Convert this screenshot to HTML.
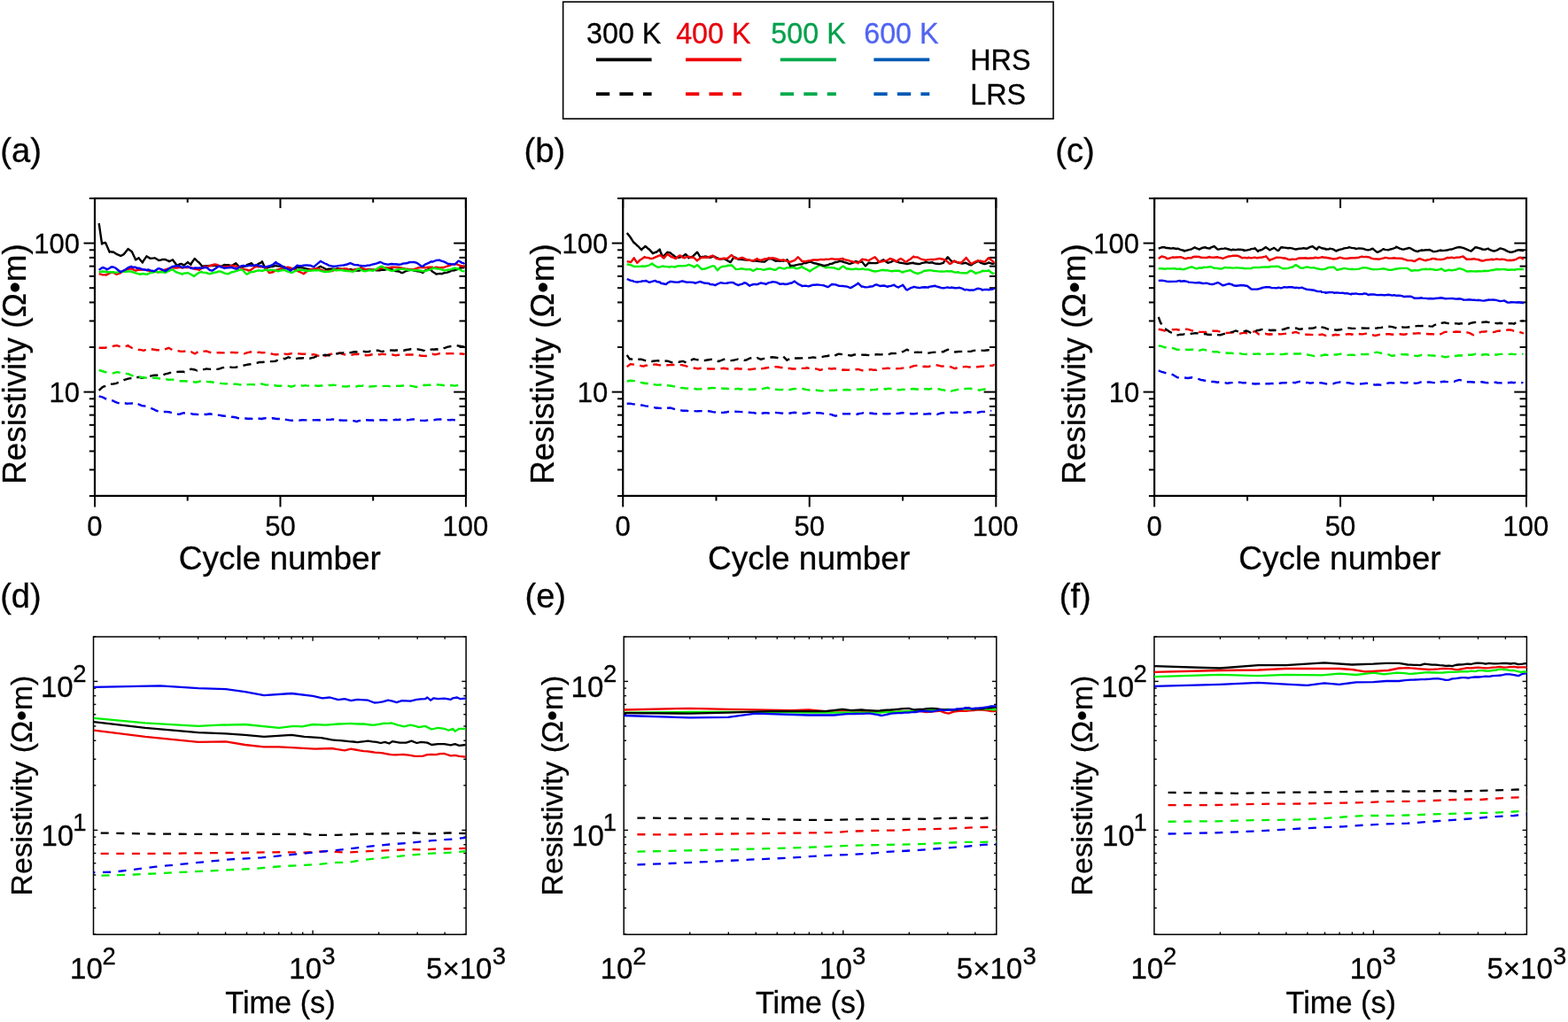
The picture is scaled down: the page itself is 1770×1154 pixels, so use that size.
<!DOCTYPE html>
<html><head><meta charset="utf-8"><title>Resistivity figure</title>
<style>html,body{margin:0;padding:0;background:#fff;}svg{display:block;}</style></head>
<body>
<svg width="1770" height="1154" viewBox="0 0 1770 1154" font-family="Liberation Sans, Arial, sans-serif">
<rect width="1770" height="1154" fill="#fff"/>
<clipPath id="clipf"><rect x="1302.9" y="719.0" width="420.5" height="336.20000000000005"/></clipPath>
<clipPath id="clipe"><rect x="704.2" y="719.0" width="420.5999999999999" height="336.20000000000005"/></clipPath>
<clipPath id="clipd"><rect x="105.5" y="719.0" width="420.6" height="336.20000000000005"/></clipPath>
<clipPath id="clipc"><rect x="1303.1" y="224.0" width="419.9000000000001" height="335.9"/></clipPath>
<clipPath id="clipb"><rect x="703.2" y="224.0" width="421.0999999999999" height="335.9"/></clipPath>
<clipPath id="clipa"><rect x="107.0" y="224.0" width="418.9" height="335.9"/></clipPath>
<rect x="635.6" y="2.1" width="553.4" height="132" fill="none" stroke="#000" stroke-width="1.6"/>
<text x="661.99" y="48.90" font-size="32.30" fill="#000" stroke="#000" stroke-width="0.3">300 K</text>
<line x1="672.90" y1="67.45" x2="735.60" y2="67.45" stroke="#000" stroke-width="3.7" />
<line x1="672.90" y1="106.20" x2="735.60" y2="106.20" stroke="#000" stroke-width="3.7" stroke-dasharray="15.3 11.2"/>
<text x="763.17" y="48.90" font-size="32.30" fill="#e6000c" stroke="#e6000c" stroke-width="0.3">400 K</text>
<line x1="774.00" y1="67.45" x2="837.00" y2="67.45" stroke="#ee0000" stroke-width="3.7" />
<line x1="774.00" y1="106.20" x2="837.00" y2="106.20" stroke="#ee0000" stroke-width="3.7" stroke-dasharray="15.3 11.2"/>
<text x="870.31" y="48.90" font-size="32.30" fill="#00a04c" stroke="#00a04c" stroke-width="0.3">500 K</text>
<line x1="880.80" y1="67.45" x2="943.90" y2="67.45" stroke="#00aa4c" stroke-width="3.7" />
<line x1="880.80" y1="106.20" x2="943.90" y2="106.20" stroke="#00aa4c" stroke-width="3.7" stroke-dasharray="15.3 11.2"/>
<text x="975.18" y="48.90" font-size="32.30" fill="#5064f2" stroke="#5064f2" stroke-width="0.3">600 K</text>
<line x1="986.40" y1="67.45" x2="1049.30" y2="67.45" stroke="#005ab4" stroke-width="3.7" />
<line x1="986.40" y1="106.20" x2="1049.30" y2="106.20" stroke="#005ab4" stroke-width="3.7" stroke-dasharray="15.3 11.2"/>
<text x="1095.24" y="79.30" font-size="32.30" fill="#000" stroke="#000" stroke-width="0.3">HRS</text>
<text x="1095.24" y="118.20" font-size="32.30" fill="#000" stroke="#000" stroke-width="0.3">LRS</text>
<line x1="100.80" y1="560.03" x2="107.00" y2="560.03" stroke="#000" stroke-width="2.0" />
<line x1="518.50" y1="560.03" x2="525.90" y2="560.03" stroke="#000" stroke-width="2.0" />
<line x1="100.80" y1="530.44" x2="107.00" y2="530.44" stroke="#000" stroke-width="2.0" />
<line x1="518.50" y1="530.44" x2="525.90" y2="530.44" stroke="#000" stroke-width="2.0" />
<line x1="100.80" y1="509.45" x2="107.00" y2="509.45" stroke="#000" stroke-width="2.0" />
<line x1="518.50" y1="509.45" x2="525.90" y2="509.45" stroke="#000" stroke-width="2.0" />
<line x1="100.80" y1="493.17" x2="107.00" y2="493.17" stroke="#000" stroke-width="2.0" />
<line x1="518.50" y1="493.17" x2="525.90" y2="493.17" stroke="#000" stroke-width="2.0" />
<line x1="100.80" y1="479.87" x2="107.00" y2="479.87" stroke="#000" stroke-width="2.0" />
<line x1="518.50" y1="479.87" x2="525.90" y2="479.87" stroke="#000" stroke-width="2.0" />
<line x1="100.80" y1="468.62" x2="107.00" y2="468.62" stroke="#000" stroke-width="2.0" />
<line x1="518.50" y1="468.62" x2="525.90" y2="468.62" stroke="#000" stroke-width="2.0" />
<line x1="100.80" y1="458.88" x2="107.00" y2="458.88" stroke="#000" stroke-width="2.0" />
<line x1="518.50" y1="458.88" x2="525.90" y2="458.88" stroke="#000" stroke-width="2.0" />
<line x1="100.80" y1="450.29" x2="107.00" y2="450.29" stroke="#000" stroke-width="2.0" />
<line x1="518.50" y1="450.29" x2="525.90" y2="450.29" stroke="#000" stroke-width="2.0" />
<line x1="100.80" y1="392.03" x2="107.00" y2="392.03" stroke="#000" stroke-width="2.0" />
<line x1="518.50" y1="392.03" x2="525.90" y2="392.03" stroke="#000" stroke-width="2.0" />
<line x1="100.80" y1="362.44" x2="107.00" y2="362.44" stroke="#000" stroke-width="2.0" />
<line x1="518.50" y1="362.44" x2="525.90" y2="362.44" stroke="#000" stroke-width="2.0" />
<line x1="100.80" y1="341.45" x2="107.00" y2="341.45" stroke="#000" stroke-width="2.0" />
<line x1="518.50" y1="341.45" x2="525.90" y2="341.45" stroke="#000" stroke-width="2.0" />
<line x1="100.80" y1="325.17" x2="107.00" y2="325.17" stroke="#000" stroke-width="2.0" />
<line x1="518.50" y1="325.17" x2="525.90" y2="325.17" stroke="#000" stroke-width="2.0" />
<line x1="100.80" y1="311.87" x2="107.00" y2="311.87" stroke="#000" stroke-width="2.0" />
<line x1="518.50" y1="311.87" x2="525.90" y2="311.87" stroke="#000" stroke-width="2.0" />
<line x1="100.80" y1="300.62" x2="107.00" y2="300.62" stroke="#000" stroke-width="2.0" />
<line x1="518.50" y1="300.62" x2="525.90" y2="300.62" stroke="#000" stroke-width="2.0" />
<line x1="100.80" y1="290.88" x2="107.00" y2="290.88" stroke="#000" stroke-width="2.0" />
<line x1="518.50" y1="290.88" x2="525.90" y2="290.88" stroke="#000" stroke-width="2.0" />
<line x1="100.80" y1="282.29" x2="107.00" y2="282.29" stroke="#000" stroke-width="2.0" />
<line x1="518.50" y1="282.29" x2="525.90" y2="282.29" stroke="#000" stroke-width="2.0" />
<line x1="100.80" y1="224.03" x2="107.00" y2="224.03" stroke="#000" stroke-width="2.0" />
<line x1="518.50" y1="224.03" x2="525.90" y2="224.03" stroke="#000" stroke-width="2.0" />
<line x1="94.50" y1="442.60" x2="107.00" y2="442.60" stroke="#000" stroke-width="2.0" />
<line x1="512.20" y1="442.60" x2="525.90" y2="442.60" stroke="#000" stroke-width="2.0" />
<line x1="94.50" y1="274.60" x2="107.00" y2="274.60" stroke="#000" stroke-width="2.0" />
<line x1="512.20" y1="274.60" x2="525.90" y2="274.60" stroke="#000" stroke-width="2.0" />
<line x1="107.00" y1="559.90" x2="107.00" y2="572.40" stroke="#000" stroke-width="2.0" />
<line x1="107.00" y1="224.00" x2="107.00" y2="235.00" stroke="#000" stroke-width="2.0" />
<line x1="211.72" y1="559.90" x2="211.72" y2="565.50" stroke="#000" stroke-width="2.0" />
<line x1="211.72" y1="224.00" x2="211.72" y2="228.70" stroke="#000" stroke-width="2.0" />
<line x1="316.45" y1="559.90" x2="316.45" y2="572.40" stroke="#000" stroke-width="2.0" />
<line x1="316.45" y1="224.00" x2="316.45" y2="235.00" stroke="#000" stroke-width="2.0" />
<line x1="421.18" y1="559.90" x2="421.18" y2="565.50" stroke="#000" stroke-width="2.0" />
<line x1="421.18" y1="224.00" x2="421.18" y2="228.70" stroke="#000" stroke-width="2.0" />
<line x1="525.90" y1="559.90" x2="525.90" y2="572.40" stroke="#000" stroke-width="2.0" />
<line x1="525.90" y1="224.00" x2="525.90" y2="235.00" stroke="#000" stroke-width="2.0" />
<rect x="107.0" y="224.0" width="418.90" height="335.90" fill="none" stroke="#000" stroke-width="2.2"/>
<text x="38.27" y="285.80" font-size="31.00" fill="#000" stroke="#000" stroke-width="0.3">100</text>
<text x="55.55" y="453.80" font-size="31.00" fill="#000" stroke="#000" stroke-width="0.3">10</text>
<text x="98.36" y="604.60" font-size="31.00" fill="#000" stroke="#000" stroke-width="0.3">0</text>
<text x="299.21" y="604.60" font-size="31.00" fill="#000" stroke="#000" stroke-width="0.3">50</text>
<text x="499.47" y="604.60" font-size="31.00" fill="#000" stroke="#000" stroke-width="0.3">100</text>
<text x="201.70" y="642.60" font-size="37.00" fill="#000" stroke="#000" stroke-width="0.3">Cycle number</text>
<text transform="translate(29.00,546.84) rotate(-90)" x="0" y="0" font-size="36.85" fill="#000" stroke="#000" stroke-width="0.3">Resistivity (Ω•m)</text>
<text x="0.21" y="182.80" font-size="38.20" fill="#000" stroke="#000" stroke-width="0.3">(a)</text>
<line x1="697.00" y1="560.03" x2="703.20" y2="560.03" stroke="#000" stroke-width="2.0" />
<line x1="1116.90" y1="560.03" x2="1124.30" y2="560.03" stroke="#000" stroke-width="2.0" />
<line x1="697.00" y1="530.44" x2="703.20" y2="530.44" stroke="#000" stroke-width="2.0" />
<line x1="1116.90" y1="530.44" x2="1124.30" y2="530.44" stroke="#000" stroke-width="2.0" />
<line x1="697.00" y1="509.45" x2="703.20" y2="509.45" stroke="#000" stroke-width="2.0" />
<line x1="1116.90" y1="509.45" x2="1124.30" y2="509.45" stroke="#000" stroke-width="2.0" />
<line x1="697.00" y1="493.17" x2="703.20" y2="493.17" stroke="#000" stroke-width="2.0" />
<line x1="1116.90" y1="493.17" x2="1124.30" y2="493.17" stroke="#000" stroke-width="2.0" />
<line x1="697.00" y1="479.87" x2="703.20" y2="479.87" stroke="#000" stroke-width="2.0" />
<line x1="1116.90" y1="479.87" x2="1124.30" y2="479.87" stroke="#000" stroke-width="2.0" />
<line x1="697.00" y1="468.62" x2="703.20" y2="468.62" stroke="#000" stroke-width="2.0" />
<line x1="1116.90" y1="468.62" x2="1124.30" y2="468.62" stroke="#000" stroke-width="2.0" />
<line x1="697.00" y1="458.88" x2="703.20" y2="458.88" stroke="#000" stroke-width="2.0" />
<line x1="1116.90" y1="458.88" x2="1124.30" y2="458.88" stroke="#000" stroke-width="2.0" />
<line x1="697.00" y1="450.29" x2="703.20" y2="450.29" stroke="#000" stroke-width="2.0" />
<line x1="1116.90" y1="450.29" x2="1124.30" y2="450.29" stroke="#000" stroke-width="2.0" />
<line x1="697.00" y1="392.03" x2="703.20" y2="392.03" stroke="#000" stroke-width="2.0" />
<line x1="1116.90" y1="392.03" x2="1124.30" y2="392.03" stroke="#000" stroke-width="2.0" />
<line x1="697.00" y1="362.44" x2="703.20" y2="362.44" stroke="#000" stroke-width="2.0" />
<line x1="1116.90" y1="362.44" x2="1124.30" y2="362.44" stroke="#000" stroke-width="2.0" />
<line x1="697.00" y1="341.45" x2="703.20" y2="341.45" stroke="#000" stroke-width="2.0" />
<line x1="1116.90" y1="341.45" x2="1124.30" y2="341.45" stroke="#000" stroke-width="2.0" />
<line x1="697.00" y1="325.17" x2="703.20" y2="325.17" stroke="#000" stroke-width="2.0" />
<line x1="1116.90" y1="325.17" x2="1124.30" y2="325.17" stroke="#000" stroke-width="2.0" />
<line x1="697.00" y1="311.87" x2="703.20" y2="311.87" stroke="#000" stroke-width="2.0" />
<line x1="1116.90" y1="311.87" x2="1124.30" y2="311.87" stroke="#000" stroke-width="2.0" />
<line x1="697.00" y1="300.62" x2="703.20" y2="300.62" stroke="#000" stroke-width="2.0" />
<line x1="1116.90" y1="300.62" x2="1124.30" y2="300.62" stroke="#000" stroke-width="2.0" />
<line x1="697.00" y1="290.88" x2="703.20" y2="290.88" stroke="#000" stroke-width="2.0" />
<line x1="1116.90" y1="290.88" x2="1124.30" y2="290.88" stroke="#000" stroke-width="2.0" />
<line x1="697.00" y1="282.29" x2="703.20" y2="282.29" stroke="#000" stroke-width="2.0" />
<line x1="1116.90" y1="282.29" x2="1124.30" y2="282.29" stroke="#000" stroke-width="2.0" />
<line x1="697.00" y1="224.03" x2="703.20" y2="224.03" stroke="#000" stroke-width="2.0" />
<line x1="1116.90" y1="224.03" x2="1124.30" y2="224.03" stroke="#000" stroke-width="2.0" />
<line x1="690.70" y1="442.60" x2="703.20" y2="442.60" stroke="#000" stroke-width="2.0" />
<line x1="1110.60" y1="442.60" x2="1124.30" y2="442.60" stroke="#000" stroke-width="2.0" />
<line x1="690.70" y1="274.60" x2="703.20" y2="274.60" stroke="#000" stroke-width="2.0" />
<line x1="1110.60" y1="274.60" x2="1124.30" y2="274.60" stroke="#000" stroke-width="2.0" />
<line x1="703.20" y1="559.90" x2="703.20" y2="572.40" stroke="#000" stroke-width="2.0" />
<line x1="703.20" y1="224.00" x2="703.20" y2="235.00" stroke="#000" stroke-width="2.0" />
<line x1="808.48" y1="559.90" x2="808.48" y2="565.50" stroke="#000" stroke-width="2.0" />
<line x1="808.48" y1="224.00" x2="808.48" y2="228.70" stroke="#000" stroke-width="2.0" />
<line x1="913.75" y1="559.90" x2="913.75" y2="572.40" stroke="#000" stroke-width="2.0" />
<line x1="913.75" y1="224.00" x2="913.75" y2="235.00" stroke="#000" stroke-width="2.0" />
<line x1="1019.02" y1="559.90" x2="1019.02" y2="565.50" stroke="#000" stroke-width="2.0" />
<line x1="1019.02" y1="224.00" x2="1019.02" y2="228.70" stroke="#000" stroke-width="2.0" />
<line x1="1124.30" y1="559.90" x2="1124.30" y2="572.40" stroke="#000" stroke-width="2.0" />
<line x1="1124.30" y1="224.00" x2="1124.30" y2="235.00" stroke="#000" stroke-width="2.0" />
<rect x="703.2" y="224.0" width="421.10" height="335.90" fill="none" stroke="#000" stroke-width="2.2"/>
<text x="634.47" y="285.80" font-size="31.00" fill="#000" stroke="#000" stroke-width="0.3">100</text>
<text x="651.75" y="453.80" font-size="31.00" fill="#000" stroke="#000" stroke-width="0.3">10</text>
<text x="694.56" y="604.60" font-size="31.00" fill="#000" stroke="#000" stroke-width="0.3">0</text>
<text x="896.51" y="604.60" font-size="31.00" fill="#000" stroke="#000" stroke-width="0.3">50</text>
<text x="1097.87" y="604.60" font-size="31.00" fill="#000" stroke="#000" stroke-width="0.3">100</text>
<text x="799.00" y="642.60" font-size="37.00" fill="#000" stroke="#000" stroke-width="0.3">Cycle number</text>
<text transform="translate(625.20,546.84) rotate(-90)" x="0" y="0" font-size="36.85" fill="#000" stroke="#000" stroke-width="0.3">Resistivity (Ω•m)</text>
<text x="591.61" y="182.80" font-size="38.20" fill="#000" stroke="#000" stroke-width="0.3">(b)</text>
<line x1="1296.90" y1="560.03" x2="1303.10" y2="560.03" stroke="#000" stroke-width="2.0" />
<line x1="1715.60" y1="560.03" x2="1723.00" y2="560.03" stroke="#000" stroke-width="2.0" />
<line x1="1296.90" y1="530.44" x2="1303.10" y2="530.44" stroke="#000" stroke-width="2.0" />
<line x1="1715.60" y1="530.44" x2="1723.00" y2="530.44" stroke="#000" stroke-width="2.0" />
<line x1="1296.90" y1="509.45" x2="1303.10" y2="509.45" stroke="#000" stroke-width="2.0" />
<line x1="1715.60" y1="509.45" x2="1723.00" y2="509.45" stroke="#000" stroke-width="2.0" />
<line x1="1296.90" y1="493.17" x2="1303.10" y2="493.17" stroke="#000" stroke-width="2.0" />
<line x1="1715.60" y1="493.17" x2="1723.00" y2="493.17" stroke="#000" stroke-width="2.0" />
<line x1="1296.90" y1="479.87" x2="1303.10" y2="479.87" stroke="#000" stroke-width="2.0" />
<line x1="1715.60" y1="479.87" x2="1723.00" y2="479.87" stroke="#000" stroke-width="2.0" />
<line x1="1296.90" y1="468.62" x2="1303.10" y2="468.62" stroke="#000" stroke-width="2.0" />
<line x1="1715.60" y1="468.62" x2="1723.00" y2="468.62" stroke="#000" stroke-width="2.0" />
<line x1="1296.90" y1="458.88" x2="1303.10" y2="458.88" stroke="#000" stroke-width="2.0" />
<line x1="1715.60" y1="458.88" x2="1723.00" y2="458.88" stroke="#000" stroke-width="2.0" />
<line x1="1296.90" y1="450.29" x2="1303.10" y2="450.29" stroke="#000" stroke-width="2.0" />
<line x1="1715.60" y1="450.29" x2="1723.00" y2="450.29" stroke="#000" stroke-width="2.0" />
<line x1="1296.90" y1="392.03" x2="1303.10" y2="392.03" stroke="#000" stroke-width="2.0" />
<line x1="1715.60" y1="392.03" x2="1723.00" y2="392.03" stroke="#000" stroke-width="2.0" />
<line x1="1296.90" y1="362.44" x2="1303.10" y2="362.44" stroke="#000" stroke-width="2.0" />
<line x1="1715.60" y1="362.44" x2="1723.00" y2="362.44" stroke="#000" stroke-width="2.0" />
<line x1="1296.90" y1="341.45" x2="1303.10" y2="341.45" stroke="#000" stroke-width="2.0" />
<line x1="1715.60" y1="341.45" x2="1723.00" y2="341.45" stroke="#000" stroke-width="2.0" />
<line x1="1296.90" y1="325.17" x2="1303.10" y2="325.17" stroke="#000" stroke-width="2.0" />
<line x1="1715.60" y1="325.17" x2="1723.00" y2="325.17" stroke="#000" stroke-width="2.0" />
<line x1="1296.90" y1="311.87" x2="1303.10" y2="311.87" stroke="#000" stroke-width="2.0" />
<line x1="1715.60" y1="311.87" x2="1723.00" y2="311.87" stroke="#000" stroke-width="2.0" />
<line x1="1296.90" y1="300.62" x2="1303.10" y2="300.62" stroke="#000" stroke-width="2.0" />
<line x1="1715.60" y1="300.62" x2="1723.00" y2="300.62" stroke="#000" stroke-width="2.0" />
<line x1="1296.90" y1="290.88" x2="1303.10" y2="290.88" stroke="#000" stroke-width="2.0" />
<line x1="1715.60" y1="290.88" x2="1723.00" y2="290.88" stroke="#000" stroke-width="2.0" />
<line x1="1296.90" y1="282.29" x2="1303.10" y2="282.29" stroke="#000" stroke-width="2.0" />
<line x1="1715.60" y1="282.29" x2="1723.00" y2="282.29" stroke="#000" stroke-width="2.0" />
<line x1="1296.90" y1="224.03" x2="1303.10" y2="224.03" stroke="#000" stroke-width="2.0" />
<line x1="1715.60" y1="224.03" x2="1723.00" y2="224.03" stroke="#000" stroke-width="2.0" />
<line x1="1290.60" y1="442.60" x2="1303.10" y2="442.60" stroke="#000" stroke-width="2.0" />
<line x1="1709.30" y1="442.60" x2="1723.00" y2="442.60" stroke="#000" stroke-width="2.0" />
<line x1="1290.60" y1="274.60" x2="1303.10" y2="274.60" stroke="#000" stroke-width="2.0" />
<line x1="1709.30" y1="274.60" x2="1723.00" y2="274.60" stroke="#000" stroke-width="2.0" />
<line x1="1303.10" y1="559.90" x2="1303.10" y2="572.40" stroke="#000" stroke-width="2.0" />
<line x1="1303.10" y1="224.00" x2="1303.10" y2="235.00" stroke="#000" stroke-width="2.0" />
<line x1="1408.07" y1="559.90" x2="1408.07" y2="565.50" stroke="#000" stroke-width="2.0" />
<line x1="1408.07" y1="224.00" x2="1408.07" y2="228.70" stroke="#000" stroke-width="2.0" />
<line x1="1513.05" y1="559.90" x2="1513.05" y2="572.40" stroke="#000" stroke-width="2.0" />
<line x1="1513.05" y1="224.00" x2="1513.05" y2="235.00" stroke="#000" stroke-width="2.0" />
<line x1="1618.03" y1="559.90" x2="1618.03" y2="565.50" stroke="#000" stroke-width="2.0" />
<line x1="1618.03" y1="224.00" x2="1618.03" y2="228.70" stroke="#000" stroke-width="2.0" />
<line x1="1723.00" y1="559.90" x2="1723.00" y2="572.40" stroke="#000" stroke-width="2.0" />
<line x1="1723.00" y1="224.00" x2="1723.00" y2="235.00" stroke="#000" stroke-width="2.0" />
<rect x="1303.1" y="224.0" width="419.90" height="335.90" fill="none" stroke="#000" stroke-width="2.2"/>
<text x="1234.37" y="285.80" font-size="31.00" fill="#000" stroke="#000" stroke-width="0.3">100</text>
<text x="1251.65" y="453.80" font-size="31.00" fill="#000" stroke="#000" stroke-width="0.3">10</text>
<text x="1294.46" y="604.60" font-size="31.00" fill="#000" stroke="#000" stroke-width="0.3">0</text>
<text x="1495.81" y="604.60" font-size="31.00" fill="#000" stroke="#000" stroke-width="0.3">50</text>
<text x="1696.57" y="604.60" font-size="31.00" fill="#000" stroke="#000" stroke-width="0.3">100</text>
<text x="1398.30" y="642.60" font-size="37.00" fill="#000" stroke="#000" stroke-width="0.3">Cycle number</text>
<text transform="translate(1225.10,546.84) rotate(-90)" x="0" y="0" font-size="36.85" fill="#000" stroke="#000" stroke-width="0.3">Resistivity (Ω•m)</text>
<text x="1191.21" y="182.80" font-size="38.20" fill="#000" stroke="#000" stroke-width="0.3">(c)</text>
<line x1="105.50" y1="1054.83" x2="108.30" y2="1054.83" stroke="#000" stroke-width="1.4" />
<line x1="523.30" y1="1054.83" x2="526.10" y2="1054.83" stroke="#000" stroke-width="1.4" />
<line x1="105.50" y1="1025.24" x2="108.30" y2="1025.24" stroke="#000" stroke-width="1.4" />
<line x1="523.30" y1="1025.24" x2="526.10" y2="1025.24" stroke="#000" stroke-width="1.4" />
<line x1="105.50" y1="1004.25" x2="108.30" y2="1004.25" stroke="#000" stroke-width="1.4" />
<line x1="523.30" y1="1004.25" x2="526.10" y2="1004.25" stroke="#000" stroke-width="1.4" />
<line x1="105.50" y1="987.97" x2="108.30" y2="987.97" stroke="#000" stroke-width="1.4" />
<line x1="523.30" y1="987.97" x2="526.10" y2="987.97" stroke="#000" stroke-width="1.4" />
<line x1="105.50" y1="974.67" x2="108.30" y2="974.67" stroke="#000" stroke-width="1.4" />
<line x1="523.30" y1="974.67" x2="526.10" y2="974.67" stroke="#000" stroke-width="1.4" />
<line x1="105.50" y1="963.42" x2="108.30" y2="963.42" stroke="#000" stroke-width="1.4" />
<line x1="523.30" y1="963.42" x2="526.10" y2="963.42" stroke="#000" stroke-width="1.4" />
<line x1="105.50" y1="953.68" x2="108.30" y2="953.68" stroke="#000" stroke-width="1.4" />
<line x1="523.30" y1="953.68" x2="526.10" y2="953.68" stroke="#000" stroke-width="1.4" />
<line x1="105.50" y1="945.09" x2="108.30" y2="945.09" stroke="#000" stroke-width="1.4" />
<line x1="523.30" y1="945.09" x2="526.10" y2="945.09" stroke="#000" stroke-width="1.4" />
<line x1="105.50" y1="886.83" x2="108.30" y2="886.83" stroke="#000" stroke-width="1.4" />
<line x1="523.30" y1="886.83" x2="526.10" y2="886.83" stroke="#000" stroke-width="1.4" />
<line x1="105.50" y1="857.24" x2="108.30" y2="857.24" stroke="#000" stroke-width="1.4" />
<line x1="523.30" y1="857.24" x2="526.10" y2="857.24" stroke="#000" stroke-width="1.4" />
<line x1="105.50" y1="836.25" x2="108.30" y2="836.25" stroke="#000" stroke-width="1.4" />
<line x1="523.30" y1="836.25" x2="526.10" y2="836.25" stroke="#000" stroke-width="1.4" />
<line x1="105.50" y1="819.97" x2="108.30" y2="819.97" stroke="#000" stroke-width="1.4" />
<line x1="523.30" y1="819.97" x2="526.10" y2="819.97" stroke="#000" stroke-width="1.4" />
<line x1="105.50" y1="806.67" x2="108.30" y2="806.67" stroke="#000" stroke-width="1.4" />
<line x1="523.30" y1="806.67" x2="526.10" y2="806.67" stroke="#000" stroke-width="1.4" />
<line x1="105.50" y1="795.42" x2="108.30" y2="795.42" stroke="#000" stroke-width="1.4" />
<line x1="523.30" y1="795.42" x2="526.10" y2="795.42" stroke="#000" stroke-width="1.4" />
<line x1="105.50" y1="785.68" x2="108.30" y2="785.68" stroke="#000" stroke-width="1.4" />
<line x1="523.30" y1="785.68" x2="526.10" y2="785.68" stroke="#000" stroke-width="1.4" />
<line x1="105.50" y1="777.09" x2="108.30" y2="777.09" stroke="#000" stroke-width="1.4" />
<line x1="523.30" y1="777.09" x2="526.10" y2="777.09" stroke="#000" stroke-width="1.4" />
<line x1="105.50" y1="718.83" x2="108.30" y2="718.83" stroke="#000" stroke-width="1.4" />
<line x1="523.30" y1="718.83" x2="526.10" y2="718.83" stroke="#000" stroke-width="1.4" />
<line x1="105.50" y1="937.40" x2="110.30" y2="937.40" stroke="#000" stroke-width="1.4" />
<line x1="521.30" y1="937.40" x2="526.10" y2="937.40" stroke="#000" stroke-width="1.4" />
<line x1="105.50" y1="769.40" x2="110.30" y2="769.40" stroke="#000" stroke-width="1.4" />
<line x1="521.30" y1="769.40" x2="526.10" y2="769.40" stroke="#000" stroke-width="1.4" />
<line x1="180.02" y1="1055.20" x2="180.02" y2="1052.40" stroke="#000" stroke-width="1.4" />
<line x1="180.02" y1="719.00" x2="180.02" y2="721.80" stroke="#000" stroke-width="1.4" />
<line x1="223.62" y1="1055.20" x2="223.62" y2="1052.40" stroke="#000" stroke-width="1.4" />
<line x1="223.62" y1="719.00" x2="223.62" y2="721.80" stroke="#000" stroke-width="1.4" />
<line x1="254.55" y1="1055.20" x2="254.55" y2="1052.40" stroke="#000" stroke-width="1.4" />
<line x1="254.55" y1="719.00" x2="254.55" y2="721.80" stroke="#000" stroke-width="1.4" />
<line x1="278.54" y1="1055.20" x2="278.54" y2="1052.40" stroke="#000" stroke-width="1.4" />
<line x1="278.54" y1="719.00" x2="278.54" y2="721.80" stroke="#000" stroke-width="1.4" />
<line x1="298.14" y1="1055.20" x2="298.14" y2="1052.40" stroke="#000" stroke-width="1.4" />
<line x1="298.14" y1="719.00" x2="298.14" y2="721.80" stroke="#000" stroke-width="1.4" />
<line x1="314.71" y1="1055.20" x2="314.71" y2="1052.40" stroke="#000" stroke-width="1.4" />
<line x1="314.71" y1="719.00" x2="314.71" y2="721.80" stroke="#000" stroke-width="1.4" />
<line x1="329.07" y1="1055.20" x2="329.07" y2="1052.40" stroke="#000" stroke-width="1.4" />
<line x1="329.07" y1="719.00" x2="329.07" y2="721.80" stroke="#000" stroke-width="1.4" />
<line x1="341.73" y1="1055.20" x2="341.73" y2="1052.40" stroke="#000" stroke-width="1.4" />
<line x1="341.73" y1="719.00" x2="341.73" y2="721.80" stroke="#000" stroke-width="1.4" />
<line x1="353.06" y1="1055.20" x2="353.06" y2="1050.40" stroke="#000" stroke-width="1.4" />
<line x1="353.06" y1="719.00" x2="353.06" y2="723.80" stroke="#000" stroke-width="1.4" />
<line x1="427.59" y1="1055.20" x2="427.59" y2="1052.40" stroke="#000" stroke-width="1.4" />
<line x1="427.59" y1="719.00" x2="427.59" y2="721.80" stroke="#000" stroke-width="1.4" />
<line x1="471.18" y1="1055.20" x2="471.18" y2="1052.40" stroke="#000" stroke-width="1.4" />
<line x1="471.18" y1="719.00" x2="471.18" y2="721.80" stroke="#000" stroke-width="1.4" />
<line x1="502.11" y1="1055.20" x2="502.11" y2="1052.40" stroke="#000" stroke-width="1.4" />
<line x1="502.11" y1="719.00" x2="502.11" y2="721.80" stroke="#000" stroke-width="1.4" />
<rect x="105.5" y="719.0" width="420.60" height="336.20" fill="none" stroke="#000" stroke-width="1.5"/>
<text x="82.21" y="770.40" font-size="27.50" fill="#000" stroke="#000" stroke-width="0.3">2</text>
<text x="45.89" y="787.30" font-size="33.00" fill="#000" stroke="#000" stroke-width="0.3">10</text>
<text x="82.14" y="938.40" font-size="27.50" fill="#000" stroke="#000" stroke-width="0.3">1</text>
<text x="46.51" y="955.30" font-size="33.00" fill="#000" stroke="#000" stroke-width="0.3">10</text>
<text x="79.06" y="1105.40" font-size="33.00" fill="#000" stroke="#000" stroke-width="0.3">10</text>
<text x="115.58" y="1088.90" font-size="27.50" fill="#000" stroke="#000" stroke-width="0.3">2</text>
<text x="326.35" y="1105.40" font-size="33.00" fill="#000" stroke="#000" stroke-width="0.3">10</text>
<text x="363.21" y="1088.90" font-size="27.50" fill="#000" stroke="#000" stroke-width="0.3">3</text>
<text x="481.11" y="1105.40" font-size="33.00" fill="#000" stroke="#000" stroke-width="0.3">5×10</text>
<text x="555.68" y="1088.90" font-size="27.50" fill="#000" stroke="#000" stroke-width="0.3">3</text>
<text x="254.23" y="1144.10" font-size="34.30" fill="#000" stroke="#000" stroke-width="0.3">Time (s)</text>
<text transform="translate(35.90,1011.38) rotate(-90)" x="0" y="0" font-size="33.71" fill="#000" stroke="#000" stroke-width="0.3">Resistivity (Ω•m)</text>
<text x="0.23" y="685.50" font-size="38.00" fill="#000" stroke="#000" stroke-width="0.3">(d)</text>
<line x1="704.20" y1="1054.83" x2="707.00" y2="1054.83" stroke="#000" stroke-width="1.4" />
<line x1="1122.00" y1="1054.83" x2="1124.80" y2="1054.83" stroke="#000" stroke-width="1.4" />
<line x1="704.20" y1="1025.24" x2="707.00" y2="1025.24" stroke="#000" stroke-width="1.4" />
<line x1="1122.00" y1="1025.24" x2="1124.80" y2="1025.24" stroke="#000" stroke-width="1.4" />
<line x1="704.20" y1="1004.25" x2="707.00" y2="1004.25" stroke="#000" stroke-width="1.4" />
<line x1="1122.00" y1="1004.25" x2="1124.80" y2="1004.25" stroke="#000" stroke-width="1.4" />
<line x1="704.20" y1="987.97" x2="707.00" y2="987.97" stroke="#000" stroke-width="1.4" />
<line x1="1122.00" y1="987.97" x2="1124.80" y2="987.97" stroke="#000" stroke-width="1.4" />
<line x1="704.20" y1="974.67" x2="707.00" y2="974.67" stroke="#000" stroke-width="1.4" />
<line x1="1122.00" y1="974.67" x2="1124.80" y2="974.67" stroke="#000" stroke-width="1.4" />
<line x1="704.20" y1="963.42" x2="707.00" y2="963.42" stroke="#000" stroke-width="1.4" />
<line x1="1122.00" y1="963.42" x2="1124.80" y2="963.42" stroke="#000" stroke-width="1.4" />
<line x1="704.20" y1="953.68" x2="707.00" y2="953.68" stroke="#000" stroke-width="1.4" />
<line x1="1122.00" y1="953.68" x2="1124.80" y2="953.68" stroke="#000" stroke-width="1.4" />
<line x1="704.20" y1="945.09" x2="707.00" y2="945.09" stroke="#000" stroke-width="1.4" />
<line x1="1122.00" y1="945.09" x2="1124.80" y2="945.09" stroke="#000" stroke-width="1.4" />
<line x1="704.20" y1="886.83" x2="707.00" y2="886.83" stroke="#000" stroke-width="1.4" />
<line x1="1122.00" y1="886.83" x2="1124.80" y2="886.83" stroke="#000" stroke-width="1.4" />
<line x1="704.20" y1="857.24" x2="707.00" y2="857.24" stroke="#000" stroke-width="1.4" />
<line x1="1122.00" y1="857.24" x2="1124.80" y2="857.24" stroke="#000" stroke-width="1.4" />
<line x1="704.20" y1="836.25" x2="707.00" y2="836.25" stroke="#000" stroke-width="1.4" />
<line x1="1122.00" y1="836.25" x2="1124.80" y2="836.25" stroke="#000" stroke-width="1.4" />
<line x1="704.20" y1="819.97" x2="707.00" y2="819.97" stroke="#000" stroke-width="1.4" />
<line x1="1122.00" y1="819.97" x2="1124.80" y2="819.97" stroke="#000" stroke-width="1.4" />
<line x1="704.20" y1="806.67" x2="707.00" y2="806.67" stroke="#000" stroke-width="1.4" />
<line x1="1122.00" y1="806.67" x2="1124.80" y2="806.67" stroke="#000" stroke-width="1.4" />
<line x1="704.20" y1="795.42" x2="707.00" y2="795.42" stroke="#000" stroke-width="1.4" />
<line x1="1122.00" y1="795.42" x2="1124.80" y2="795.42" stroke="#000" stroke-width="1.4" />
<line x1="704.20" y1="785.68" x2="707.00" y2="785.68" stroke="#000" stroke-width="1.4" />
<line x1="1122.00" y1="785.68" x2="1124.80" y2="785.68" stroke="#000" stroke-width="1.4" />
<line x1="704.20" y1="777.09" x2="707.00" y2="777.09" stroke="#000" stroke-width="1.4" />
<line x1="1122.00" y1="777.09" x2="1124.80" y2="777.09" stroke="#000" stroke-width="1.4" />
<line x1="704.20" y1="718.83" x2="707.00" y2="718.83" stroke="#000" stroke-width="1.4" />
<line x1="1122.00" y1="718.83" x2="1124.80" y2="718.83" stroke="#000" stroke-width="1.4" />
<line x1="704.20" y1="937.40" x2="709.00" y2="937.40" stroke="#000" stroke-width="1.4" />
<line x1="1120.00" y1="937.40" x2="1124.80" y2="937.40" stroke="#000" stroke-width="1.4" />
<line x1="704.20" y1="769.40" x2="709.00" y2="769.40" stroke="#000" stroke-width="1.4" />
<line x1="1120.00" y1="769.40" x2="1124.80" y2="769.40" stroke="#000" stroke-width="1.4" />
<line x1="778.72" y1="1055.20" x2="778.72" y2="1052.40" stroke="#000" stroke-width="1.4" />
<line x1="778.72" y1="719.00" x2="778.72" y2="721.80" stroke="#000" stroke-width="1.4" />
<line x1="822.32" y1="1055.20" x2="822.32" y2="1052.40" stroke="#000" stroke-width="1.4" />
<line x1="822.32" y1="719.00" x2="822.32" y2="721.80" stroke="#000" stroke-width="1.4" />
<line x1="853.25" y1="1055.20" x2="853.25" y2="1052.40" stroke="#000" stroke-width="1.4" />
<line x1="853.25" y1="719.00" x2="853.25" y2="721.80" stroke="#000" stroke-width="1.4" />
<line x1="877.24" y1="1055.20" x2="877.24" y2="1052.40" stroke="#000" stroke-width="1.4" />
<line x1="877.24" y1="719.00" x2="877.24" y2="721.80" stroke="#000" stroke-width="1.4" />
<line x1="896.84" y1="1055.20" x2="896.84" y2="1052.40" stroke="#000" stroke-width="1.4" />
<line x1="896.84" y1="719.00" x2="896.84" y2="721.80" stroke="#000" stroke-width="1.4" />
<line x1="913.41" y1="1055.20" x2="913.41" y2="1052.40" stroke="#000" stroke-width="1.4" />
<line x1="913.41" y1="719.00" x2="913.41" y2="721.80" stroke="#000" stroke-width="1.4" />
<line x1="927.77" y1="1055.20" x2="927.77" y2="1052.40" stroke="#000" stroke-width="1.4" />
<line x1="927.77" y1="719.00" x2="927.77" y2="721.80" stroke="#000" stroke-width="1.4" />
<line x1="940.43" y1="1055.20" x2="940.43" y2="1052.40" stroke="#000" stroke-width="1.4" />
<line x1="940.43" y1="719.00" x2="940.43" y2="721.80" stroke="#000" stroke-width="1.4" />
<line x1="951.76" y1="1055.20" x2="951.76" y2="1050.40" stroke="#000" stroke-width="1.4" />
<line x1="951.76" y1="719.00" x2="951.76" y2="723.80" stroke="#000" stroke-width="1.4" />
<line x1="1026.29" y1="1055.20" x2="1026.29" y2="1052.40" stroke="#000" stroke-width="1.4" />
<line x1="1026.29" y1="719.00" x2="1026.29" y2="721.80" stroke="#000" stroke-width="1.4" />
<line x1="1069.88" y1="1055.20" x2="1069.88" y2="1052.40" stroke="#000" stroke-width="1.4" />
<line x1="1069.88" y1="719.00" x2="1069.88" y2="721.80" stroke="#000" stroke-width="1.4" />
<line x1="1100.81" y1="1055.20" x2="1100.81" y2="1052.40" stroke="#000" stroke-width="1.4" />
<line x1="1100.81" y1="719.00" x2="1100.81" y2="721.80" stroke="#000" stroke-width="1.4" />
<rect x="704.2" y="719.0" width="420.60" height="336.20" fill="none" stroke="#000" stroke-width="1.5"/>
<text x="680.91" y="770.40" font-size="27.50" fill="#000" stroke="#000" stroke-width="0.3">2</text>
<text x="644.60" y="787.30" font-size="33.00" fill="#000" stroke="#000" stroke-width="0.3">10</text>
<text x="680.84" y="938.40" font-size="27.50" fill="#000" stroke="#000" stroke-width="0.3">1</text>
<text x="645.21" y="955.30" font-size="33.00" fill="#000" stroke="#000" stroke-width="0.3">10</text>
<text x="677.76" y="1105.40" font-size="33.00" fill="#000" stroke="#000" stroke-width="0.3">10</text>
<text x="714.28" y="1088.90" font-size="27.50" fill="#000" stroke="#000" stroke-width="0.3">2</text>
<text x="925.05" y="1105.40" font-size="33.00" fill="#000" stroke="#000" stroke-width="0.3">10</text>
<text x="961.91" y="1088.90" font-size="27.50" fill="#000" stroke="#000" stroke-width="0.3">3</text>
<text x="1079.81" y="1105.40" font-size="33.00" fill="#000" stroke="#000" stroke-width="0.3">5×10</text>
<text x="1154.38" y="1088.90" font-size="27.50" fill="#000" stroke="#000" stroke-width="0.3">3</text>
<text x="852.93" y="1144.10" font-size="34.30" fill="#000" stroke="#000" stroke-width="0.3">Time (s)</text>
<text transform="translate(634.60,1011.38) rotate(-90)" x="0" y="0" font-size="33.71" fill="#000" stroke="#000" stroke-width="0.3">Resistivity (Ω•m)</text>
<text x="592.52" y="685.50" font-size="38.00" fill="#000" stroke="#000" stroke-width="0.3">(e)</text>
<line x1="1302.90" y1="1054.83" x2="1305.70" y2="1054.83" stroke="#000" stroke-width="1.4" />
<line x1="1720.60" y1="1054.83" x2="1723.40" y2="1054.83" stroke="#000" stroke-width="1.4" />
<line x1="1302.90" y1="1025.24" x2="1305.70" y2="1025.24" stroke="#000" stroke-width="1.4" />
<line x1="1720.60" y1="1025.24" x2="1723.40" y2="1025.24" stroke="#000" stroke-width="1.4" />
<line x1="1302.90" y1="1004.25" x2="1305.70" y2="1004.25" stroke="#000" stroke-width="1.4" />
<line x1="1720.60" y1="1004.25" x2="1723.40" y2="1004.25" stroke="#000" stroke-width="1.4" />
<line x1="1302.90" y1="987.97" x2="1305.70" y2="987.97" stroke="#000" stroke-width="1.4" />
<line x1="1720.60" y1="987.97" x2="1723.40" y2="987.97" stroke="#000" stroke-width="1.4" />
<line x1="1302.90" y1="974.67" x2="1305.70" y2="974.67" stroke="#000" stroke-width="1.4" />
<line x1="1720.60" y1="974.67" x2="1723.40" y2="974.67" stroke="#000" stroke-width="1.4" />
<line x1="1302.90" y1="963.42" x2="1305.70" y2="963.42" stroke="#000" stroke-width="1.4" />
<line x1="1720.60" y1="963.42" x2="1723.40" y2="963.42" stroke="#000" stroke-width="1.4" />
<line x1="1302.90" y1="953.68" x2="1305.70" y2="953.68" stroke="#000" stroke-width="1.4" />
<line x1="1720.60" y1="953.68" x2="1723.40" y2="953.68" stroke="#000" stroke-width="1.4" />
<line x1="1302.90" y1="945.09" x2="1305.70" y2="945.09" stroke="#000" stroke-width="1.4" />
<line x1="1720.60" y1="945.09" x2="1723.40" y2="945.09" stroke="#000" stroke-width="1.4" />
<line x1="1302.90" y1="886.83" x2="1305.70" y2="886.83" stroke="#000" stroke-width="1.4" />
<line x1="1720.60" y1="886.83" x2="1723.40" y2="886.83" stroke="#000" stroke-width="1.4" />
<line x1="1302.90" y1="857.24" x2="1305.70" y2="857.24" stroke="#000" stroke-width="1.4" />
<line x1="1720.60" y1="857.24" x2="1723.40" y2="857.24" stroke="#000" stroke-width="1.4" />
<line x1="1302.90" y1="836.25" x2="1305.70" y2="836.25" stroke="#000" stroke-width="1.4" />
<line x1="1720.60" y1="836.25" x2="1723.40" y2="836.25" stroke="#000" stroke-width="1.4" />
<line x1="1302.90" y1="819.97" x2="1305.70" y2="819.97" stroke="#000" stroke-width="1.4" />
<line x1="1720.60" y1="819.97" x2="1723.40" y2="819.97" stroke="#000" stroke-width="1.4" />
<line x1="1302.90" y1="806.67" x2="1305.70" y2="806.67" stroke="#000" stroke-width="1.4" />
<line x1="1720.60" y1="806.67" x2="1723.40" y2="806.67" stroke="#000" stroke-width="1.4" />
<line x1="1302.90" y1="795.42" x2="1305.70" y2="795.42" stroke="#000" stroke-width="1.4" />
<line x1="1720.60" y1="795.42" x2="1723.40" y2="795.42" stroke="#000" stroke-width="1.4" />
<line x1="1302.90" y1="785.68" x2="1305.70" y2="785.68" stroke="#000" stroke-width="1.4" />
<line x1="1720.60" y1="785.68" x2="1723.40" y2="785.68" stroke="#000" stroke-width="1.4" />
<line x1="1302.90" y1="777.09" x2="1305.70" y2="777.09" stroke="#000" stroke-width="1.4" />
<line x1="1720.60" y1="777.09" x2="1723.40" y2="777.09" stroke="#000" stroke-width="1.4" />
<line x1="1302.90" y1="718.83" x2="1305.70" y2="718.83" stroke="#000" stroke-width="1.4" />
<line x1="1720.60" y1="718.83" x2="1723.40" y2="718.83" stroke="#000" stroke-width="1.4" />
<line x1="1302.90" y1="937.40" x2="1307.70" y2="937.40" stroke="#000" stroke-width="1.4" />
<line x1="1718.60" y1="937.40" x2="1723.40" y2="937.40" stroke="#000" stroke-width="1.4" />
<line x1="1302.90" y1="769.40" x2="1307.70" y2="769.40" stroke="#000" stroke-width="1.4" />
<line x1="1718.60" y1="769.40" x2="1723.40" y2="769.40" stroke="#000" stroke-width="1.4" />
<line x1="1377.41" y1="1055.20" x2="1377.41" y2="1052.40" stroke="#000" stroke-width="1.4" />
<line x1="1377.41" y1="719.00" x2="1377.41" y2="721.80" stroke="#000" stroke-width="1.4" />
<line x1="1420.99" y1="1055.20" x2="1420.99" y2="1052.40" stroke="#000" stroke-width="1.4" />
<line x1="1420.99" y1="719.00" x2="1420.99" y2="721.80" stroke="#000" stroke-width="1.4" />
<line x1="1451.91" y1="1055.20" x2="1451.91" y2="1052.40" stroke="#000" stroke-width="1.4" />
<line x1="1451.91" y1="719.00" x2="1451.91" y2="721.80" stroke="#000" stroke-width="1.4" />
<line x1="1475.90" y1="1055.20" x2="1475.90" y2="1052.40" stroke="#000" stroke-width="1.4" />
<line x1="1475.90" y1="719.00" x2="1475.90" y2="721.80" stroke="#000" stroke-width="1.4" />
<line x1="1495.49" y1="1055.20" x2="1495.49" y2="1052.40" stroke="#000" stroke-width="1.4" />
<line x1="1495.49" y1="719.00" x2="1495.49" y2="721.80" stroke="#000" stroke-width="1.4" />
<line x1="1512.06" y1="1055.20" x2="1512.06" y2="1052.40" stroke="#000" stroke-width="1.4" />
<line x1="1512.06" y1="719.00" x2="1512.06" y2="721.80" stroke="#000" stroke-width="1.4" />
<line x1="1526.42" y1="1055.20" x2="1526.42" y2="1052.40" stroke="#000" stroke-width="1.4" />
<line x1="1526.42" y1="719.00" x2="1526.42" y2="721.80" stroke="#000" stroke-width="1.4" />
<line x1="1539.08" y1="1055.20" x2="1539.08" y2="1052.40" stroke="#000" stroke-width="1.4" />
<line x1="1539.08" y1="719.00" x2="1539.08" y2="721.80" stroke="#000" stroke-width="1.4" />
<line x1="1550.40" y1="1055.20" x2="1550.40" y2="1050.40" stroke="#000" stroke-width="1.4" />
<line x1="1550.40" y1="719.00" x2="1550.40" y2="723.80" stroke="#000" stroke-width="1.4" />
<line x1="1624.91" y1="1055.20" x2="1624.91" y2="1052.40" stroke="#000" stroke-width="1.4" />
<line x1="1624.91" y1="719.00" x2="1624.91" y2="721.80" stroke="#000" stroke-width="1.4" />
<line x1="1668.49" y1="1055.20" x2="1668.49" y2="1052.40" stroke="#000" stroke-width="1.4" />
<line x1="1668.49" y1="719.00" x2="1668.49" y2="721.80" stroke="#000" stroke-width="1.4" />
<line x1="1699.41" y1="1055.20" x2="1699.41" y2="1052.40" stroke="#000" stroke-width="1.4" />
<line x1="1699.41" y1="719.00" x2="1699.41" y2="721.80" stroke="#000" stroke-width="1.4" />
<rect x="1302.9" y="719.0" width="420.50" height="336.20" fill="none" stroke="#000" stroke-width="1.5"/>
<text x="1279.61" y="770.40" font-size="27.50" fill="#000" stroke="#000" stroke-width="0.3">2</text>
<text x="1243.30" y="787.30" font-size="33.00" fill="#000" stroke="#000" stroke-width="0.3">10</text>
<text x="1279.54" y="938.40" font-size="27.50" fill="#000" stroke="#000" stroke-width="0.3">1</text>
<text x="1243.91" y="955.30" font-size="33.00" fill="#000" stroke="#000" stroke-width="0.3">10</text>
<text x="1276.46" y="1105.40" font-size="33.00" fill="#000" stroke="#000" stroke-width="0.3">10</text>
<text x="1312.98" y="1088.90" font-size="27.50" fill="#000" stroke="#000" stroke-width="0.3">2</text>
<text x="1523.69" y="1105.40" font-size="33.00" fill="#000" stroke="#000" stroke-width="0.3">10</text>
<text x="1560.55" y="1088.90" font-size="27.50" fill="#000" stroke="#000" stroke-width="0.3">3</text>
<text x="1678.41" y="1105.40" font-size="33.00" fill="#000" stroke="#000" stroke-width="0.3">5×10</text>
<text x="1752.98" y="1088.90" font-size="27.50" fill="#000" stroke="#000" stroke-width="0.3">3</text>
<text x="1451.58" y="1144.10" font-size="34.30" fill="#000" stroke="#000" stroke-width="0.3">Time (s)</text>
<text transform="translate(1233.30,1011.38) rotate(-90)" x="0" y="0" font-size="33.71" fill="#000" stroke="#000" stroke-width="0.3">Resistivity (Ω•m)</text>
<text x="1195.83" y="685.50" font-size="38.00" fill="#000" stroke="#000" stroke-width="0.3">(f)</text>
<g clip-path="url(#clipa)" fill="none" stroke-linejoin="round">
<path d="M111.7 392.8 L115.4 392.8 L119.4 392.8 L119.6 392.4 L123.8 391.4 L126.6 391.3 L127.9 390.8 L132.1 390.1 L132.6 390.4 L136.3 391.5 L138.6 392.1 L140.5 391.4 L144.6 390.1 L144.7 390.6 L148.9 392.8 L150.6 393.3 L153.1 394.2 L157.3 395.1 L157.8 394.9 L161.5 395.7 L162.6 395.7 L165.6 394.6 L169.8 394.0 L169.8 394.1 L174.0 394.7 L177.0 395.2 L178.2 395.2 L182.4 395.2 L184.2 395.2 L186.6 394.3 L190.2 392.8 L190.8 393.0 L195.0 395.3 L196.2 395.7 L199.2 395.9 L203.3 396.6 L203.4 396.9 L207.5 396.8 L210.6 396.1 L211.7 396.6 L215.4 397.6 L215.9 397.4 L220.1 399.5 L220.2 399.3 L224.3 396.9 L225.0 396.4 L228.5 396.8 L232.3 396.4 L232.7 396.3 L236.9 397.8 L239.5 398.1 L241.0 398.5 L245.2 398.2 L249.1 398.1 L249.4 398.4 L253.6 398.4 L257.8 397.9 L258.7 398.1 L262.0 397.9 L266.2 398.3 L268.3 398.1 L270.4 398.3 L274.6 398.9 L275.5 399.3 L278.7 398.3 L282.7 397.3 L282.9 397.4 L287.1 397.5 L291.3 398.0 L292.3 397.6 L295.5 398.2 L299.7 398.1 L301.9 398.1 L303.9 398.8 L308.1 399.9 L311.5 400.5 L312.3 400.1 L316.4 400.4 L320.6 400.1 L321.1 399.7 L324.8 400.0 L329.0 399.1 L330.7 399.3 L333.2 399.2 L337.4 399.4 L341.6 399.8 L345.1 399.7 L345.8 399.8 L350.0 400.6 L354.2 400.2 L357.1 400.9 L358.3 401.5 L362.5 402.2 L366.7 402.4 L366.7 402.2 L370.9 400.5 L373.9 399.7 L375.1 399.9 L379.3 399.5 L383.5 398.4 L383.5 398.5 L387.7 400.0 L391.9 400.9 L393.1 400.9 L396.0 400.8 L400.2 400.1 L402.7 400.0 L404.4 399.7 L408.6 401.0 L412.3 400.9 L412.8 401.2 L417.0 401.0 L421.2 399.8 L421.9 400.0 L425.4 400.3 L429.6 400.2 L431.5 399.7 L433.7 400.1 L437.9 400.1 L441.1 400.5 L442.1 400.3 L446.3 401.2 L450.5 400.7 L450.7 400.9 L454.7 400.8 L458.9 400.6 L460.3 400.5 L463.1 400.4 L467.3 400.5 L469.9 400.9 L471.4 400.6 L475.6 401.8 L479.5 401.9 L479.8 402.0 L484.0 401.1 L488.2 399.7 L489.2 400.0 L492.4 400.2 L496.6 399.2 L498.8 399.3 L500.8 399.0 L505.0 399.2 L509.1 399.1 L513.2 399.3 L513.3 399.4 L517.5 399.6 L521.7 399.5 L524.0 400.0 L524.0 400.2" stroke="#f00000" stroke-width="2.4" stroke-dasharray="9.2 6.3"/>
<path d="M111.7 440.8 L115.4 437.4 L117.0 436.5 L119.6 435.7 L123.8 433.4 L124.2 433.6 L127.9 433.5 L131.4 432.9 L132.1 432.5 L136.3 430.3 L138.6 429.8 L140.5 428.9 L144.7 427.7 L145.8 427.4 L148.9 427.0 L153.0 425.7 L153.1 426.0 L157.3 425.9 L160.2 426.9 L161.5 426.5 L165.6 425.5 L167.4 424.5 L169.8 424.6 L174.0 423.8 L177.0 423.8 L178.2 423.5 L182.4 423.7 L184.2 423.5 L186.6 422.3 L190.8 421.3 L191.4 420.9 L195.0 420.8 L198.6 419.7 L199.2 419.9 L203.3 419.8 L207.5 419.8 L208.2 420.2 L211.7 418.8 L215.4 416.8 L215.9 416.8 L220.1 417.5 L222.6 418.5 L224.3 417.9 L228.5 417.6 L232.3 416.6 L232.7 416.4 L236.9 416.9 L241.0 416.5 L241.9 416.8 L245.2 416.9 L249.1 416.1 L249.4 415.7 L253.6 414.7 L257.8 414.1 L258.7 414.2 L262.0 414.9 L265.9 414.9 L266.2 414.7 L270.4 413.8 L273.1 413.0 L274.6 412.7 L278.7 411.8 L282.7 411.3 L282.9 411.2 L287.1 410.0 L291.3 409.6 L292.3 408.9 L295.5 409.0 L299.7 408.7 L301.9 408.2 L303.9 408.1 L308.1 408.1 L311.5 407.7 L312.3 407.0 L316.4 406.6 L320.6 404.9 L321.1 405.3 L324.8 403.7 L325.9 403.3 L329.0 404.6 L330.7 405.8 L333.2 405.2 L337.4 404.4 L340.3 404.5 L341.6 404.3 L345.8 404.2 L349.9 404.5 L350.0 404.7 L354.2 403.6 L357.1 402.4 L358.3 402.4 L362.5 401.8 L366.7 400.9 L366.7 400.6 L370.9 401.2 L373.9 400.9 L375.1 400.8 L379.3 399.6 L381.1 399.3 L383.5 398.9 L387.7 398.4 L388.3 398.8 L391.9 398.4 L396.0 398.1 L397.9 397.6 L400.2 397.3 L404.4 397.5 L407.5 396.9 L408.6 396.5 L412.8 397.2 L417.0 397.0 L417.1 396.6 L421.2 396.1 L425.4 395.7 L426.7 395.7 L429.6 396.6 L431.5 396.9 L433.7 396.5 L436.3 395.7 L437.9 395.7 L442.1 395.5 L445.9 395.7 L446.3 395.4 L450.5 395.6 L454.7 395.5 L455.5 395.7 L458.9 395.0 L462.7 394.5 L463.1 394.3 L467.3 394.2 L471.4 394.3 L472.3 394.5 L475.6 395.1 L479.5 396.1 L479.8 396.5 L484.0 395.2 L488.2 394.4 L489.2 394.7 L492.4 394.3 L496.6 394.6 L498.8 394.5 L500.8 393.3 L505.0 391.8 L506.0 391.6 L509.1 391.0 L513.3 390.5 L515.6 390.1 L517.5 390.5 L521.7 391.1 L524.0 391.6 L524.0 391.6" stroke="#000000" stroke-width="2.4" stroke-dasharray="9.2 6.3"/>
<path d="M111.7 418.0 L115.4 419.0 L119.4 420.4 L119.6 420.3 L123.8 420.8 L126.6 421.4 L127.9 421.4 L132.1 420.1 L133.8 420.4 L136.3 421.0 L140.5 421.4 L143.4 422.1 L144.7 422.2 L148.9 424.0 L150.6 424.5 L153.1 425.2 L157.3 425.5 L160.2 426.2 L161.5 426.2 L165.6 426.6 L169.8 426.4 L169.8 426.6 L174.0 426.8 L178.2 427.0 L179.4 427.4 L182.4 427.7 L186.6 428.2 L186.6 428.1 L190.8 428.7 L193.8 428.6 L195.0 428.6 L199.2 429.3 L201.0 429.8 L203.3 430.2 L207.5 430.2 L210.6 430.5 L211.7 430.9 L215.9 431.0 L220.1 431.4 L220.2 431.7 L224.3 431.0 L227.4 430.0 L228.5 429.9 L232.7 430.8 L236.9 431.4 L237.1 431.0 L241.0 431.7 L245.2 432.2 L246.7 432.4 L249.4 432.9 L253.6 433.2 L256.3 433.4 L257.8 433.8 L262.0 433.9 L265.9 433.6 L266.2 433.6 L270.4 434.3 L273.1 434.6 L274.6 434.1 L278.7 434.3 L282.7 434.1 L282.9 434.1 L287.1 434.3 L291.3 433.9 L292.3 433.6 L295.5 433.4 L299.7 434.6 L301.9 434.6 L303.9 434.4 L308.1 435.3 L311.5 435.3 L312.3 435.8 L316.4 435.7 L320.6 435.6 L321.1 435.5 L324.8 435.6 L328.3 436.5 L329.0 436.7 L333.2 435.3 L335.5 435.3 L337.4 434.9 L341.6 435.6 L345.1 435.3 L345.8 435.4 L350.0 435.7 L354.2 435.3 L358.3 435.7 L359.5 435.8 L362.5 435.5 L366.7 435.4 L369.1 435.3 L370.9 435.0 L375.1 435.0 L376.3 434.6 L379.3 435.1 L383.5 436.0 L383.5 436.0 L387.7 436.4 L391.9 436.5 L393.1 436.0 L396.0 435.9 L400.2 436.2 L402.7 436.5 L404.4 435.7 L408.6 435.9 L409.9 435.3 L412.8 436.0 L417.0 436.5 L417.1 436.5 L421.2 436.2 L425.4 435.9 L429.1 436.0 L429.6 436.4 L433.7 435.9 L437.9 435.9 L441.1 436.5 L442.1 436.1 L446.3 435.9 L450.5 435.8 L450.7 436.0 L454.7 435.5 L458.9 435.1 L460.3 435.3 L463.1 435.6 L467.3 436.4 L469.9 437.0 L471.4 436.6 L475.6 435.2 L479.5 434.8 L479.8 435.0 L484.0 434.8 L488.2 434.8 L489.2 434.6 L492.4 434.2 L496.6 434.6 L498.8 434.8 L500.8 435.2 L505.0 434.9 L508.4 435.3 L509.1 435.0 L513.3 435.6 L517.5 435.0 L518.0 435.3" stroke="#00f000" stroke-width="2.4" stroke-dasharray="9.2 6.3"/>
<path d="M111.7 447.3 L115.4 448.3 L119.4 450.4 L119.6 450.2 L123.8 451.9 L127.9 452.6 L129.0 453.3 L132.1 454.7 L136.2 455.7 L136.3 455.5 L140.5 455.2 L143.4 455.7 L144.7 455.6 L148.9 455.4 L153.0 455.7 L153.1 455.2 L157.3 456.9 L160.2 458.1 L161.5 458.3 L165.6 458.7 L167.4 459.3 L169.8 460.8 L174.0 462.4 L174.6 462.9 L178.2 464.3 L181.8 465.3 L182.4 465.1 L186.6 464.9 L190.8 465.2 L191.4 465.3 L195.0 466.4 L199.2 467.2 L201.0 467.7 L203.3 467.5 L207.5 466.2 L208.2 466.5 L211.7 466.6 L215.9 467.1 L217.8 467.7 L220.1 467.7 L224.3 468.1 L228.5 467.6 L229.8 467.7 L232.7 468.0 L236.9 467.3 L239.5 467.7 L241.0 467.6 L245.2 468.6 L249.1 468.9 L249.4 469.2 L253.6 469.8 L257.8 469.6 L258.7 470.1 L262.0 470.8 L266.2 471.3 L268.3 472.0 L270.4 472.4 L274.6 472.4 L277.9 472.5 L278.7 472.7 L282.9 472.8 L287.1 473.0 L287.5 472.5 L291.3 472.5 L295.5 473.0 L297.1 472.5 L299.7 472.3 L303.9 472.9 L306.7 472.5 L308.1 472.2 L312.3 473.0 L316.3 473.0 L316.4 473.4 L320.6 473.7 L324.8 474.1 L325.9 474.4 L329.0 474.7 L333.2 474.7 L335.5 474.4 L337.4 474.6 L341.6 474.3 L345.1 474.4 L345.8 474.4 L350.0 473.9 L354.2 474.4 L354.7 474.4 L358.3 474.2 L362.5 474.6 L364.3 474.4 L366.7 473.8 L370.9 473.9 L373.9 473.7 L375.1 473.4 L379.3 473.9 L383.5 474.9 L383.5 474.4 L387.7 474.7 L391.9 474.6 L393.1 474.4 L396.0 474.8 L400.2 475.3 L402.7 476.1 L404.4 475.2 L408.6 474.7 L412.3 473.7 L412.8 474.2 L417.0 474.5 L421.2 474.5 L421.9 474.9 L425.4 475.2 L429.6 474.2 L431.5 474.4 L433.7 474.1 L437.9 474.7 L441.1 474.9 L442.1 474.7 L446.3 473.8 L450.5 474.1 L450.7 473.7 L454.7 473.8 L458.9 474.2 L460.3 474.4 L463.1 473.8 L467.3 473.4 L469.9 473.7 L471.4 474.3 L475.6 474.9 L479.5 474.9 L479.8 475.0 L484.0 474.2 L488.2 474.1 L489.2 474.4 L492.4 473.8 L496.6 473.4 L498.8 473.7 L500.8 474.1 L505.0 474.1 L508.4 474.4 L509.1 473.9 L513.3 474.2 L517.5 474.4 L518.0 474.4" stroke="#0000f0" stroke-width="2.4" stroke-dasharray="9.2 6.3"/>
<path d="M111.7 252.1 L115.1 275.6 L115.4 274.9 L118.9 273.9 L119.6 275.1 L123.7 284.7 L123.8 284.0 L127.8 284.7 L127.9 284.5 L132.1 287.2 L136.2 288.8 L136.3 289.0 L139.8 287.1 L140.5 286.2 L144.6 280.9 L144.7 281.3 L148.7 284.0 L148.9 284.3 L153.0 292.9 L153.1 293.4 L156.6 291.2 L157.3 292.2 L160.9 296.5 L161.5 295.2 L165.5 289.3 L165.6 289.5 L169.8 291.9 L169.8 291.9 L174.0 291.4 L174.6 291.2 L178.2 293.2 L178.9 294.1 L182.4 293.4 L183.0 292.9 L186.6 293.0 L187.8 293.6 L190.8 294.9 L191.0 295.3 L195.0 293.3 L195.0 293.6 L199.2 298.9 L199.8 300.1 L203.3 298.1 L204.6 297.9 L207.5 299.3 L208.2 299.1 L211.7 296.4 L211.8 296.0 L215.4 298.9 L215.9 297.5 L219.8 291.9 L220.1 292.4 L223.8 296.0 L224.3 295.9 L228.5 300.9 L228.6 300.8 L232.7 300.2 L234.7 300.1 L236.9 300.0 L241.0 300.0 L241.9 299.6 L245.2 300.6 L249.1 300.8 L249.4 301.0 L253.6 298.9 L253.9 299.1 L257.8 299.1 L261.1 300.1 L262.0 299.7 L266.2 297.4 L266.3 297.2 L270.4 301.8 L270.7 301.5 L274.6 301.3 L277.9 300.1 L278.7 299.2 L282.9 297.6 L283.9 297.2 L287.1 300.8 L287.5 300.8 L291.3 298.2 L295.5 296.2 L295.9 295.3 L299.5 303.2 L299.7 302.5 L303.9 301.6 L306.7 300.8 L308.1 301.0 L311.5 299.6 L312.3 300.4 L316.4 300.6 L320.6 301.1 L321.1 301.5 L324.8 303.2 L328.3 304.4 L329.0 303.9 L333.2 303.1 L335.5 302.0 L337.4 302.0 L341.6 302.4 L345.1 303.2 L345.8 303.4 L350.0 304.2 L354.2 304.3 L354.7 304.4 L358.3 302.7 L361.9 300.8 L362.5 301.2 L366.7 303.3 L369.1 304.4 L370.9 303.6 L375.1 303.7 L379.3 303.9 L381.1 303.2 L383.5 303.5 L387.7 304.3 L391.9 304.9 L393.1 304.4 L396.0 304.1 L400.2 305.5 L404.4 305.5 L405.1 305.6 L408.6 304.6 L412.8 304.5 L417.0 304.4 L417.1 304.4 L421.2 304.6 L425.4 305.4 L429.1 305.2 L429.6 304.9 L433.7 304.8 L437.9 303.6 L441.1 303.2 L442.1 304.2 L446.3 306.0 L450.5 306.5 L453.1 308.0 L454.7 308.0 L458.9 305.8 L463.1 304.8 L465.1 304.4 L467.3 305.6 L471.4 306.2 L475.6 306.9 L477.1 308.0 L479.8 305.6 L484.0 304.1 L484.4 303.2 L488.2 306.7 L491.6 308.8 L492.4 309.5 L496.6 308.9 L498.8 309.2 L500.8 308.4 L505.0 307.6 L508.4 306.4 L509.1 305.5 L513.3 305.2 L515.6 304.4 L517.5 303.4 L521.7 302.2 L524.0 302.0 L524.0 302.4" stroke="#000000" stroke-width="2.4"/>
<path d="M111.7 309.2 L115.4 310.2 L119.4 310.4 L119.6 310.6 L123.8 308.4 L126.6 307.3 L127.9 307.6 L131.4 309.7 L132.1 309.6 L136.3 308.1 L138.6 306.4 L140.5 305.4 L144.7 304.2 L145.8 303.2 L148.9 303.6 L153.0 305.6 L153.1 305.7 L157.3 304.7 L161.5 304.6 L162.6 304.4 L165.6 305.2 L169.8 306.4 L172.2 306.4 L174.0 306.5 L178.2 307.2 L181.8 306.8 L182.4 306.4 L186.6 304.4 L190.8 303.2 L193.8 302.0 L195.0 302.4 L199.2 302.5 L203.3 301.8 L205.8 302.5 L207.5 302.1 L211.7 301.9 L215.4 302.0 L215.9 302.1 L220.1 303.9 L224.3 304.4 L225.0 304.9 L228.5 302.3 L232.3 300.8 L232.7 301.3 L236.9 300.2 L241.0 299.0 L241.9 298.4 L245.2 299.0 L249.4 300.9 L251.5 302.0 L253.6 301.1 L257.8 301.3 L261.1 300.1 L262.0 299.8 L266.2 300.6 L270.4 301.6 L270.7 302.0 L274.6 303.9 L278.7 304.6 L280.3 305.6 L282.9 305.0 L287.1 301.9 L289.9 300.8 L291.3 301.2 L295.5 301.1 L299.5 302.0 L299.7 302.0 L303.9 308.0 L304.3 308.0 L308.1 307.3 L312.3 304.7 L313.9 304.4 L316.4 303.7 L320.6 302.5 L324.8 301.8 L325.9 302.0 L329.0 303.0 L333.2 304.8 L335.5 305.6 L337.4 306.7 L341.6 308.5 L342.7 309.2 L345.8 306.7 L349.9 304.4 L350.0 304.5 L354.2 303.7 L358.3 303.2 L359.5 303.2 L362.5 305.0 L366.7 306.1 L369.1 306.8 L370.9 305.7 L375.1 306.0 L378.7 304.4 L379.3 305.0 L383.5 303.7 L387.7 304.0 L388.3 303.2 L391.9 303.6 L396.0 305.7 L397.9 305.6 L400.2 304.3 L404.4 303.7 L407.5 302.0 L408.6 302.6 L412.8 304.3 L417.0 304.6 L417.1 304.9 L421.2 304.6 L425.4 304.4 L429.1 303.2 L429.6 302.7 L433.7 302.3 L437.9 302.4 L441.1 302.0 L442.1 301.6 L446.3 301.7 L450.5 301.9 L453.1 302.7 L454.7 302.8 L458.9 303.8 L463.1 304.1 L465.1 304.4 L467.3 304.2 L471.4 302.5 L475.6 301.8 L477.1 302.0 L479.8 302.2 L484.0 301.8 L488.2 301.8 L489.2 302.5 L492.4 301.7 L496.6 302.4 L498.8 302.0 L500.8 302.2 L505.0 300.5 L508.4 299.6 L509.1 298.8 L513.3 298.4 L515.6 298.4 L517.5 299.2 L521.7 300.6 L524.0 300.8 L524.0 300.4" stroke="#f00000" stroke-width="2.4"/>
<path d="M111.7 307.3 L115.4 306.5 L119.4 306.8 L119.6 307.3 L123.8 307.3 L127.9 307.1 L129.0 307.6 L132.1 307.6 L136.3 306.8 L138.6 306.4 L140.5 306.8 L144.7 306.5 L148.2 306.4 L148.9 306.9 L153.1 308.4 L157.3 309.3 L157.8 309.7 L161.5 309.0 L165.6 309.9 L167.4 309.2 L169.8 308.0 L174.0 307.3 L177.0 306.4 L178.2 307.2 L182.4 307.1 L186.6 307.7 L186.6 308.0 L190.8 305.8 L193.8 304.4 L195.0 304.6 L199.2 307.4 L201.0 308.0 L203.3 308.6 L205.8 309.7 L207.5 308.6 L211.7 308.2 L211.8 308.0 L215.9 310.0 L219.0 312.1 L220.1 311.0 L224.3 308.1 L227.4 306.8 L228.5 307.6 L232.7 308.0 L236.9 309.3 L237.1 309.2 L241.0 308.0 L245.2 307.3 L246.7 306.4 L249.4 306.6 L253.6 308.6 L256.3 309.2 L257.8 309.2 L262.0 307.2 L265.9 306.4 L266.2 306.2 L270.4 304.9 L273.1 304.4 L274.6 305.7 L277.9 309.2 L278.7 309.6 L282.9 307.3 L287.1 306.8 L287.5 306.4 L291.3 305.3 L294.7 305.6 L295.5 306.0 L299.7 304.7 L303.9 305.3 L304.3 304.9 L308.1 304.9 L312.3 305.7 L313.9 306.4 L316.4 305.5 L320.6 304.7 L321.1 304.9 L324.8 306.7 L329.0 307.9 L329.5 308.0 L333.2 306.0 L337.4 304.7 L337.9 304.9 L341.6 305.0 L345.8 305.7 L349.9 305.6 L350.0 305.8 L354.2 305.3 L358.3 305.4 L359.5 304.9 L362.5 306.1 L366.7 307.0 L369.1 306.8 L370.9 306.9 L375.1 305.4 L376.3 304.4 L379.3 305.3 L383.5 305.1 L385.9 304.9 L387.7 305.5 L391.9 306.0 L396.0 306.4 L397.9 306.8 L400.2 306.1 L404.4 303.4 L405.1 303.2 L408.6 305.3 L412.3 306.4 L412.8 306.2 L417.0 305.1 L421.2 305.7 L421.9 305.2 L425.4 303.6 L429.6 301.0 L431.5 300.8 L433.7 302.4 L437.9 304.4 L441.1 305.6 L442.1 306.0 L446.3 304.9 L450.5 303.9 L453.1 303.9 L454.7 303.7 L458.9 304.5 L463.1 305.0 L465.1 304.9 L467.3 305.2 L471.4 305.3 L475.6 305.7 L477.1 306.4 L479.8 306.2 L484.0 304.9 L488.2 303.4 L489.2 302.5 L492.4 303.4 L496.6 303.8 L500.8 305.1 L501.2 305.6 L505.0 304.7 L509.1 304.1 L513.2 302.5 L513.3 302.8 L517.5 303.5 L521.7 306.1 L524.0 306.4 L524.0 306.5" stroke="#00f000" stroke-width="2.4"/>
<path d="M111.7 304.9 L115.4 302.2 L115.8 302.0 L119.6 303.3 L120.6 304.4 L123.8 302.7 L125.4 301.5 L127.9 301.5 L130.2 302.5 L132.1 304.0 L136.2 307.3 L136.3 307.0 L140.5 305.2 L142.2 303.9 L144.7 302.2 L148.2 300.8 L148.9 301.7 L153.1 301.8 L154.2 302.7 L157.3 302.8 L160.2 303.9 L161.5 304.3 L165.6 305.0 L167.4 304.4 L169.8 305.4 L174.0 306.2 L174.6 305.9 L178.2 303.4 L179.4 303.2 L182.4 304.1 L186.6 306.0 L186.6 306.4 L190.8 303.2 L193.8 301.5 L195.0 300.9 L199.2 300.2 L201.0 300.1 L203.3 300.9 L205.8 302.0 L207.5 301.4 L211.7 301.3 L211.8 300.8 L215.9 302.9 L217.8 303.2 L220.1 302.5 L224.3 302.6 L225.0 302.5 L228.5 302.6 L232.3 302.0 L232.7 301.6 L236.9 305.0 L239.5 305.6 L241.0 304.7 L245.2 301.7 L246.7 300.8 L249.4 301.3 L253.6 303.0 L253.9 302.5 L257.8 302.3 L261.1 302.0 L262.0 302.1 L266.2 303.5 L268.3 303.2 L270.4 301.4 L273.1 300.1 L274.6 300.0 L278.7 300.4 L282.7 299.6 L282.9 300.1 L287.1 299.7 L289.9 299.1 L291.3 300.1 L295.5 300.5 L297.1 301.5 L299.7 301.4 L303.9 300.4 L304.3 300.3 L308.1 298.8 L311.5 296.0 L312.3 297.2 L316.4 299.2 L318.7 300.8 L320.6 302.2 L324.8 303.7 L328.3 305.6 L329.0 304.9 L333.2 301.8 L335.5 299.6 L337.4 300.2 L341.6 300.0 L342.7 299.6 L345.8 299.5 L350.0 299.7 L354.2 301.4 L354.7 300.8 L358.3 297.8 L361.9 294.8 L362.5 295.2 L366.7 297.5 L369.1 298.4 L370.9 299.6 L375.1 300.7 L376.3 300.8 L379.3 300.6 L383.5 299.9 L385.9 299.6 L387.7 299.5 L391.9 298.5 L395.5 297.2 L396.0 297.4 L400.2 299.1 L404.4 299.3 L405.1 299.6 L408.6 300.2 L412.8 300.3 L414.7 299.6 L417.0 299.6 L421.2 298.4 L421.9 298.4 L425.4 297.3 L429.1 296.0 L429.6 296.0 L433.7 298.0 L436.3 298.4 L437.9 298.8 L442.1 298.0 L445.9 298.4 L446.3 298.3 L450.5 298.8 L453.1 298.4 L454.7 297.6 L458.9 297.3 L462.7 296.0 L463.1 296.1 L467.3 296.0 L469.9 296.7 L471.4 297.4 L475.6 300.5 L477.1 300.8 L479.8 298.7 L484.0 296.9 L486.8 295.3 L488.2 295.7 L492.4 294.0 L496.4 293.6 L496.6 294.1 L500.8 295.4 L503.6 296.7 L505.0 297.6 L509.1 298.3 L513.2 298.4 L513.3 298.6 L517.5 294.7 L518.0 294.8 L521.7 296.9 L524.0 297.2 L524.0 297.0" stroke="#0000f0" stroke-width="2.4"/>
</g>
<g clip-path="url(#clipb)" fill="none" stroke-linejoin="round">
<path d="M707.7 400.8 L710.9 405.6 L711.6 405.2 L715.8 406.3 L718.1 406.3 L720.0 405.7 L724.2 405.6 L724.3 405.9 L728.5 407.1 L729.0 407.3 L732.7 407.2 L736.3 408.0 L736.9 407.8 L741.1 407.4 L742.3 407.3 L745.3 407.5 L748.4 406.8 L749.5 407.4 L753.7 407.7 L757.9 409.2 L758.0 409.2 L762.2 409.2 L765.3 408.5 L766.4 408.7 L770.6 407.9 L771.3 408.0 L774.8 409.5 L775.0 409.7 L779.0 407.6 L782.2 405.6 L783.2 405.3 L787.4 406.3 L789.5 406.3 L791.6 407.0 L795.8 407.0 L796.7 406.8 L800.1 406.2 L804.0 405.6 L804.3 405.4 L808.5 407.4 L811.2 408.0 L812.7 407.5 L816.9 405.8 L818.5 405.6 L821.1 406.1 L823.3 406.8 L825.3 407.1 L828.1 406.8 L829.5 406.4 L833.0 405.6 L833.7 405.9 L838.0 406.2 L840.2 406.8 L842.2 406.6 L846.4 404.5 L847.5 404.4 L850.6 404.0 L854.7 404.4 L854.8 404.2 L859.0 405.9 L859.6 405.6 L863.2 404.6 L864.4 404.4 L867.4 404.0 L871.6 403.2 L871.7 403.2 L875.9 403.7 L878.9 404.4 L880.1 403.9 L883.8 402.5 L884.3 402.7 L888.5 406.8 L888.6 406.3 L892.7 404.7 L893.4 403.9 L896.9 404.5 L900.7 404.4 L901.1 404.5 L905.3 404.4 L909.5 403.5 L910.3 403.9 L913.8 404.1 L918.0 403.4 L920.0 403.9 L922.2 403.6 L926.4 403.0 L927.3 403.2 L930.6 402.4 L934.5 402.0 L934.8 401.5 L939.0 402.0 L941.8 402.5 L943.2 401.2 L946.6 399.6 L947.4 399.8 L951.6 400.2 L953.9 400.1 L955.9 400.6 L960.1 401.5 L961.1 401.5 L964.3 400.5 L968.4 400.1 L968.5 400.4 L972.7 400.6 L975.6 400.8 L976.9 400.8 L981.1 401.1 L982.9 401.5 L985.3 400.6 L989.5 400.3 L990.1 400.1 L993.8 400.4 L997.4 400.3 L998.0 400.1 L1002.2 400.2 L1004.6 399.6 L1006.4 399.0 L1010.6 399.1 L1011.9 398.4 L1014.8 398.3 L1019.0 397.1 L1019.1 397.2 L1023.2 395.0 L1024.0 394.7 L1027.4 397.0 L1028.8 397.6 L1031.7 397.9 L1035.9 397.8 L1038.5 397.9 L1040.1 397.8 L1044.3 398.0 L1048.2 398.6 L1048.5 398.6 L1052.7 397.9 L1056.9 397.6 L1057.8 397.6 L1061.1 397.3 L1065.1 397.2 L1065.3 396.8 L1069.6 394.8 L1069.9 394.7 L1073.8 395.9 L1077.2 397.2 L1078.0 397.5 L1082.2 397.0 L1086.4 396.9 L1086.8 397.4 L1090.6 396.8 L1094.8 396.9 L1096.5 396.7 L1099.0 395.9 L1103.2 395.4 L1103.8 395.5 L1107.5 395.6 L1111.0 395.9 L1111.7 395.8 L1115.9 395.2 L1115.9 395.3 L1120.1 394.8 L1121.9 394.7 L1121.9 394.7" stroke="#000000" stroke-width="2.4" stroke-dasharray="9.2 6.3"/>
<path d="M707.7 414.1 L711.6 411.3 L712.1 411.2 L715.8 411.6 L719.3 412.1 L720.0 412.1 L724.3 413.3 L726.6 413.6 L728.5 412.7 L732.7 412.6 L733.8 412.1 L736.9 411.8 L741.1 411.4 L741.1 411.7 L745.3 412.4 L748.4 412.9 L749.5 413.0 L753.7 412.2 L755.6 412.1 L757.9 412.0 L762.2 412.0 L762.9 411.7 L766.4 412.1 L770.1 412.1 L770.6 412.3 L774.8 413.3 L775.0 413.6 L779.0 414.5 L782.2 415.3 L783.2 415.5 L787.4 416.2 L789.5 416.0 L791.6 415.8 L795.8 415.9 L796.7 416.0 L800.1 416.5 L804.0 416.5 L804.3 416.4 L808.5 416.8 L811.2 416.5 L812.7 416.3 L816.9 415.8 L818.5 416.0 L821.1 416.5 L825.3 416.3 L825.7 416.5 L829.5 416.5 L833.0 416.0 L833.7 416.5 L838.0 416.5 L840.2 416.5 L842.2 416.7 L846.4 417.2 L847.5 417.0 L850.6 416.6 L854.7 416.0 L854.8 416.4 L859.0 416.4 L862.0 416.0 L863.2 415.7 L867.4 415.0 L869.2 414.6 L871.6 414.0 L875.9 414.2 L876.5 414.1 L880.1 414.7 L883.8 415.3 L884.3 415.8 L888.5 416.1 L892.7 415.9 L893.4 416.5 L896.9 416.5 L900.7 416.0 L901.1 415.7 L905.3 415.9 L909.5 415.8 L910.3 415.3 L913.8 415.9 L917.6 416.0 L918.0 416.2 L922.2 416.6 L924.9 417.7 L926.4 417.8 L930.6 416.3 L932.1 416.5 L934.8 416.0 L939.0 416.5 L941.8 416.0 L943.2 416.4 L947.4 417.2 L951.5 417.7 L951.6 417.5 L955.9 417.7 L960.1 417.6 L961.1 417.7 L964.3 417.4 L968.4 417.0 L968.5 416.9 L972.7 418.2 L975.6 418.4 L976.9 418.2 L981.1 417.5 L982.9 417.2 L985.3 417.7 L989.5 417.7 L990.1 417.2 L993.8 416.5 L998.0 416.1 L999.8 416.0 L1002.2 415.6 L1006.4 416.5 L1009.5 416.0 L1010.6 416.2 L1014.8 416.1 L1016.7 416.0 L1019.0 415.6 L1023.2 414.8 L1026.4 414.6 L1027.4 414.7 L1031.7 413.1 L1033.7 412.9 L1035.9 412.8 L1040.1 413.6 L1040.9 414.1 L1044.3 413.7 L1048.2 414.1 L1048.5 413.8 L1052.7 412.7 L1055.4 412.1 L1056.9 412.2 L1061.1 413.1 L1062.7 413.6 L1065.3 413.5 L1069.6 413.6 L1069.9 413.6 L1073.8 414.4 L1077.2 416.0 L1078.0 416.0 L1082.2 414.8 L1084.4 414.1 L1086.4 414.4 L1090.6 413.9 L1094.1 414.6 L1094.8 414.4 L1099.0 414.9 L1101.4 414.6 L1103.2 414.2 L1107.5 413.7 L1111.0 413.6 L1111.7 413.8 L1115.9 412.6 L1120.1 412.9 L1121.9 412.1 L1121.9 412.6" stroke="#f00000" stroke-width="2.4" stroke-dasharray="9.2 6.3"/>
<path d="M707.7 430.5 L711.6 429.8 L714.5 430.0 L715.8 430.1 L720.0 431.9 L721.8 432.2 L724.3 432.0 L728.5 433.0 L729.0 432.7 L732.7 433.4 L736.3 434.6 L736.9 434.1 L741.1 434.6 L743.5 434.6 L745.3 434.4 L749.5 434.5 L750.8 435.1 L753.7 435.2 L757.9 435.8 L758.0 435.8 L762.2 436.6 L765.3 437.8 L766.4 438.2 L770.6 437.9 L772.5 438.3 L774.8 438.6 L779.0 438.5 L779.8 438.7 L783.2 438.7 L787.0 439.5 L787.4 439.4 L791.6 439.2 L794.3 438.7 L795.8 438.6 L800.1 438.5 L801.5 438.3 L804.3 438.0 L808.5 438.2 L811.2 438.7 L812.7 438.4 L816.9 438.7 L820.9 438.7 L821.1 439.1 L825.3 438.6 L828.1 438.7 L829.5 439.2 L833.7 438.9 L835.4 439.5 L838.0 439.2 L842.2 439.6 L842.6 439.5 L846.4 439.8 L849.9 439.5 L850.6 439.8 L854.8 439.1 L859.0 439.5 L859.6 439.5 L863.2 438.4 L866.8 437.8 L867.4 438.2 L871.6 439.0 L874.1 439.5 L875.9 439.7 L880.1 440.1 L883.8 440.0 L884.3 440.4 L888.5 439.7 L892.7 440.0 L893.4 439.5 L896.9 439.0 L901.1 439.3 L903.1 438.7 L905.3 438.7 L909.5 439.9 L912.8 440.2 L913.8 440.6 L918.0 440.5 L922.2 440.5 L922.4 440.7 L926.4 441.2 L930.6 441.4 L932.1 441.2 L934.8 441.2 L939.0 440.7 L941.8 440.7 L943.2 440.6 L947.4 439.9 L951.5 440.2 L951.6 440.2 L955.9 440.0 L960.1 440.4 L961.1 440.2 L964.3 439.5 L968.5 439.6 L970.8 439.5 L972.7 439.2 L976.9 439.8 L980.5 440.2 L981.1 440.6 L985.3 440.1 L989.5 439.7 L990.1 439.5 L993.8 439.3 L998.0 439.1 L999.8 439.5 L1002.2 438.8 L1006.4 438.9 L1007.1 438.7 L1010.6 439.9 L1014.3 440.2 L1014.8 440.4 L1019.0 439.6 L1023.2 440.0 L1024.0 439.5 L1027.4 439.2 L1031.7 439.0 L1033.7 439.5 L1035.9 439.5 L1040.1 439.4 L1043.3 439.5 L1044.3 439.0 L1048.5 439.5 L1052.7 438.6 L1053.0 438.7 L1056.9 439.2 L1061.1 439.5 L1062.7 440.2 L1065.3 440.3 L1069.6 442.2 L1069.9 441.9 L1073.8 441.7 L1077.2 440.7 L1078.0 440.7 L1082.2 439.6 L1086.4 439.2 L1086.8 439.5 L1090.6 438.9 L1094.8 438.6 L1096.5 439.0 L1099.0 439.7 L1103.2 440.1 L1106.2 440.7 L1107.5 440.0 L1111.7 439.5 L1113.4 439.5 L1115.9 439.1 L1118.3 438.7 L1118.3 438.8" stroke="#00f000" stroke-width="2.4" stroke-dasharray="9.2 6.3"/>
<path d="M707.7 455.7 L711.6 455.7 L714.5 456.4 L715.8 456.4 L720.0 456.6 L724.2 457.6 L724.3 457.4 L728.5 458.4 L732.7 458.9 L733.8 458.8 L736.9 459.5 L741.1 460.8 L741.1 460.5 L745.3 460.9 L748.4 461.2 L749.5 461.5 L753.7 460.8 L755.6 460.5 L757.9 460.8 L762.2 462.3 L762.9 462.4 L766.4 463.0 L770.1 463.6 L770.6 463.7 L774.8 463.7 L779.0 464.5 L779.8 464.4 L783.2 464.1 L787.0 464.4 L787.4 464.2 L791.6 464.1 L795.8 464.1 L796.7 464.4 L800.1 464.3 L804.0 464.9 L804.3 465.1 L808.5 465.6 L812.7 465.5 L813.6 466.1 L816.9 465.8 L820.9 465.3 L821.1 464.9 L825.3 465.2 L828.1 464.9 L829.5 464.8 L833.7 464.9 L838.0 465.1 L840.2 464.9 L842.2 465.4 L846.4 465.8 L849.9 466.1 L850.6 466.0 L854.7 467.3 L854.8 466.9 L859.0 466.8 L863.2 466.2 L864.4 466.1 L867.4 466.5 L871.6 466.4 L874.1 466.1 L875.9 465.9 L880.1 466.4 L883.8 466.8 L884.3 467.0 L888.5 466.4 L892.7 466.6 L893.4 466.1 L896.9 465.8 L901.1 466.6 L903.1 466.8 L905.3 467.0 L909.5 466.8 L912.8 466.1 L913.8 466.1 L918.0 465.8 L922.2 466.2 L922.4 466.1 L926.4 466.4 L930.6 467.3 L932.1 467.3 L934.8 467.6 L939.0 468.1 L939.4 468.5 L943.0 469.7 L943.2 469.7 L947.4 468.2 L949.0 467.3 L951.6 467.3 L955.9 467.4 L958.7 467.3 L960.1 467.4 L964.3 467.6 L968.4 467.8 L968.5 467.2 L972.7 466.6 L975.6 466.1 L976.9 466.5 L981.1 466.5 L985.3 466.8 L985.3 467.1 L989.5 467.2 L992.6 466.8 L993.8 466.4 L998.0 467.3 L1002.2 467.3 L1002.2 467.3 L1006.4 467.1 L1009.5 467.8 L1010.6 467.3 L1014.8 466.8 L1019.0 466.0 L1019.1 466.1 L1023.2 466.9 L1027.4 467.0 L1028.8 467.3 L1031.7 467.4 L1035.9 466.8 L1038.5 466.8 L1040.1 467.3 L1044.3 467.6 L1048.2 467.3 L1048.5 467.0 L1052.7 467.8 L1056.9 467.3 L1057.8 467.8 L1061.1 466.8 L1065.1 466.1 L1065.3 466.4 L1069.6 466.0 L1073.8 465.6 L1074.8 466.1 L1078.0 465.6 L1082.0 466.1 L1082.2 466.5 L1086.4 466.1 L1090.6 465.9 L1091.7 465.3 L1094.8 465.4 L1099.0 465.7 L1101.4 466.1 L1103.2 466.0 L1107.5 464.9 L1111.0 464.9 L1111.7 464.8 L1115.9 463.7 L1118.3 463.6 L1118.3 463.3" stroke="#0000f0" stroke-width="2.4" stroke-dasharray="9.2 6.3"/>
<path d="M707.7 315.0 L711.6 316.7 L713.3 316.9 L715.8 317.8 L719.3 318.6 L720.0 318.3 L724.2 317.9 L724.3 317.4 L728.5 317.2 L729.0 316.9 L732.7 318.8 L733.8 318.6 L736.9 317.6 L739.9 316.9 L741.1 318.0 L745.3 318.8 L745.9 319.8 L749.5 320.5 L752.0 321.0 L753.7 319.4 L756.8 317.9 L757.9 318.0 L762.2 318.6 L762.9 318.6 L766.4 318.5 L770.1 317.4 L770.6 317.5 L774.8 318.7 L777.4 318.6 L779.0 318.6 L783.2 319.0 L784.6 319.8 L787.4 318.8 L790.7 317.9 L791.6 318.5 L795.8 319.8 L796.7 319.8 L800.1 320.0 L801.5 321.0 L804.3 321.2 L807.6 322.2 L808.5 321.4 L812.7 319.5 L813.6 319.1 L816.9 319.9 L820.9 319.8 L821.1 319.5 L825.3 318.9 L828.1 319.3 L829.5 320.4 L833.7 322.1 L834.2 321.7 L838.0 320.6 L840.2 319.3 L842.2 319.7 L846.3 322.7 L846.4 322.3 L850.6 321.0 L852.3 321.0 L854.8 321.2 L859.0 319.4 L859.6 319.8 L863.2 320.2 L864.4 321.0 L867.4 319.4 L871.6 318.5 L871.7 318.1 L875.9 318.6 L878.9 319.8 L880.1 320.7 L884.3 320.4 L886.2 321.0 L888.5 320.8 L892.7 319.5 L893.4 319.8 L896.9 317.6 L897.1 317.9 L901.1 320.8 L904.3 322.2 L905.3 323.0 L909.5 322.6 L912.8 323.4 L913.8 323.0 L918.0 321.6 L920.0 321.7 L922.2 321.4 L926.4 321.9 L929.7 322.2 L930.6 322.6 L934.5 324.1 L934.8 324.1 L939.0 321.0 L939.4 321.0 L943.2 321.4 L946.6 322.7 L947.4 322.8 L951.6 323.0 L953.9 323.4 L955.9 323.5 L960.1 325.1 L961.1 324.6 L964.3 322.8 L968.4 320.3 L968.5 319.7 L972.7 323.7 L973.2 323.4 L976.9 324.4 L980.5 324.1 L981.1 323.8 L985.3 323.2 L987.7 321.7 L989.5 321.4 L993.8 323.1 L995.0 322.7 L998.0 322.5 L1002.2 323.9 L1002.2 323.4 L1006.4 322.7 L1009.5 321.7 L1010.6 323.0 L1014.3 324.6 L1014.8 324.0 L1019.0 322.0 L1019.1 321.7 L1023.2 327.2 L1024.0 327.5 L1027.4 325.4 L1031.2 324.1 L1031.7 323.8 L1035.9 324.8 L1038.5 325.1 L1040.1 324.5 L1044.3 324.2 L1048.2 324.6 L1048.5 323.9 L1052.7 323.2 L1055.4 322.7 L1056.9 323.4 L1061.1 324.5 L1062.7 325.1 L1065.3 325.3 L1069.6 324.4 L1072.3 325.1 L1073.8 324.5 L1078.0 325.2 L1082.0 325.1 L1082.2 324.7 L1086.4 325.9 L1089.3 327.5 L1090.6 326.9 L1094.8 327.7 L1096.5 327.5 L1099.0 327.6 L1103.2 325.9 L1103.8 325.8 L1107.5 326.4 L1108.6 327.5 L1111.7 326.9 L1115.9 327.0 L1115.9 327.3 L1120.1 326.6 L1121.9 325.8 L1121.9 325.4" stroke="#0000f0" stroke-width="2.4"/>
<path d="M707.7 298.5 L711.6 299.0 L714.5 300.4 L715.8 301.0 L720.0 300.9 L724.2 300.9 L724.3 300.5 L728.5 300.7 L731.4 300.0 L732.7 299.5 L736.3 297.5 L736.9 298.4 L741.1 301.0 L742.3 301.7 L745.3 301.4 L748.4 300.4 L749.5 301.0 L753.7 301.1 L755.6 301.7 L757.9 300.9 L762.2 301.6 L762.9 300.9 L766.4 300.2 L770.1 300.4 L770.6 300.4 L774.8 300.0 L777.4 298.8 L779.0 299.3 L783.2 301.2 L783.4 301.7 L787.0 299.2 L787.4 299.5 L791.6 303.4 L791.9 304.1 L795.8 303.5 L799.1 302.4 L800.1 301.9 L804.3 300.4 L806.4 300.4 L808.5 303.4 L810.0 305.3 L812.7 302.3 L813.6 301.7 L816.9 300.7 L820.9 300.4 L821.1 299.7 L825.3 299.8 L825.7 299.2 L829.5 302.9 L830.6 304.1 L833.7 303.9 L837.8 303.3 L838.0 303.3 L842.2 304.3 L845.1 304.1 L846.4 303.9 L849.9 305.8 L850.6 305.6 L854.7 303.3 L854.8 303.8 L859.0 303.9 L862.0 304.8 L863.2 304.5 L867.4 303.5 L869.2 303.3 L871.6 303.8 L874.1 304.8 L875.9 304.5 L878.9 302.4 L880.1 302.2 L884.3 303.4 L886.2 303.3 L888.5 302.2 L892.7 302.2 L893.4 301.7 L896.9 302.3 L898.3 303.3 L901.1 303.1 L905.3 301.1 L905.5 301.7 L909.5 303.6 L913.8 306.0 L914.0 306.5 L918.0 303.6 L918.8 303.3 L922.2 301.4 L924.9 299.2 L926.4 299.9 L930.6 301.1 L932.1 302.4 L934.8 301.9 L939.0 302.3 L941.8 302.4 L943.2 303.2 L946.6 304.1 L947.4 303.7 L951.5 300.4 L951.6 300.5 L955.9 303.5 L956.3 303.3 L960.1 304.0 L964.3 304.0 L966.0 303.3 L968.5 304.0 L972.7 303.9 L973.2 303.3 L976.9 304.4 L980.5 304.1 L981.1 304.6 L985.3 306.0 L987.7 306.5 L989.5 306.3 L993.8 305.3 L997.4 304.8 L998.0 305.3 L1002.2 305.3 L1004.6 305.8 L1006.4 306.3 L1010.6 305.7 L1011.9 305.8 L1014.8 305.7 L1019.0 307.7 L1019.1 307.2 L1023.2 306.1 L1026.4 305.3 L1027.4 305.0 L1031.7 307.7 L1035.9 309.2 L1036.1 308.9 L1040.1 307.7 L1043.3 305.8 L1044.3 305.7 L1048.5 305.3 L1052.7 305.4 L1053.0 305.8 L1056.9 306.1 L1061.1 306.6 L1062.7 306.5 L1065.3 306.6 L1069.6 306.1 L1072.3 306.5 L1073.8 306.1 L1078.0 307.6 L1082.0 307.2 L1082.2 307.9 L1086.4 308.3 L1090.6 308.1 L1091.7 308.2 L1094.8 306.0 L1096.5 305.8 L1099.0 307.0 L1101.4 308.9 L1103.2 308.2 L1107.5 306.8 L1108.6 305.8 L1111.7 306.0 L1115.9 305.8 L1115.9 305.2 L1120.1 308.5 L1121.9 308.9 L1121.9 309.1" stroke="#00f000" stroke-width="2.4"/>
<path d="M707.7 263.0 L710.9 267.1 L711.6 268.0 L715.7 274.3 L715.8 273.8 L720.0 277.9 L720.6 278.2 L724.2 282.3 L724.3 281.7 L728.5 278.0 L728.5 278.0 L732.6 281.6 L732.7 281.4 L736.8 285.9 L736.9 286.2 L741.1 284.3 L741.1 284.7 L744.7 281.6 L745.3 283.7 L748.4 290.8 L749.5 288.8 L752.7 285.5 L753.7 284.8 L756.8 285.5 L757.9 286.6 L760.4 288.4 L762.2 290.2 L764.1 290.8 L766.4 290.8 L770.1 289.6 L770.6 289.7 L773.7 287.1 L774.8 287.8 L777.4 291.3 L779.0 290.3 L782.2 289.6 L783.2 288.3 L787.0 284.7 L787.4 285.0 L790.7 290.8 L791.6 290.1 L795.5 289.6 L795.8 289.4 L800.1 290.3 L801.5 290.8 L804.3 289.8 L806.4 289.6 L808.5 291.0 L811.2 292.0 L812.7 292.6 L816.9 292.0 L818.5 292.7 L821.1 294.2 L824.5 296.1 L825.3 295.2 L828.1 290.8 L829.5 290.5 L833.7 292.9 L835.4 292.7 L838.0 293.1 L842.2 293.5 L842.6 293.7 L846.4 293.8 L850.6 294.8 L852.3 294.4 L854.8 294.8 L859.0 295.2 L862.0 295.6 L863.2 295.6 L867.4 292.4 L869.2 292.0 L871.6 292.7 L875.9 294.8 L876.5 294.4 L880.1 294.9 L883.8 294.4 L884.3 294.7 L888.5 293.7 L888.6 293.2 L892.2 300.4 L892.7 299.9 L896.9 299.7 L900.7 298.8 L901.1 298.6 L905.3 298.2 L907.9 296.8 L909.5 297.2 L913.8 295.7 L915.2 295.6 L918.0 297.0 L922.2 297.7 L922.4 298.0 L926.4 298.9 L929.7 300.0 L930.6 300.0 L934.8 299.1 L936.9 298.0 L939.0 297.9 L943.2 295.9 L944.2 296.1 L947.4 295.1 L951.5 295.1 L951.6 295.8 L955.9 296.9 L958.7 298.0 L960.1 297.6 L964.3 296.1 L966.0 295.1 L968.5 295.9 L972.7 295.9 L973.2 295.6 L976.8 300.4 L976.9 300.5 L980.5 296.8 L981.1 296.8 L985.3 297.1 L989.5 297.1 L990.1 296.8 L993.8 295.1 L997.4 293.2 L998.0 294.3 L1002.2 296.6 L1002.2 296.8 L1006.4 295.6 L1009.5 293.7 L1010.6 294.9 L1014.8 296.3 L1016.7 296.8 L1019.0 297.1 L1023.2 297.9 L1024.0 298.0 L1027.4 297.3 L1031.2 296.8 L1031.7 297.3 L1035.9 298.0 L1038.5 298.0 L1040.1 297.2 L1044.3 296.3 L1045.7 296.1 L1048.5 296.7 L1052.7 296.3 L1053.0 296.8 L1056.9 297.8 L1060.3 298.0 L1061.1 297.9 L1065.1 296.8 L1065.3 296.0 L1069.6 290.6 L1069.9 290.3 L1073.8 294.7 L1074.8 295.1 L1078.0 295.3 L1082.0 296.8 L1082.2 296.8 L1086.4 297.5 L1089.3 296.8 L1090.6 297.0 L1094.8 299.1 L1096.5 299.2 L1099.0 297.4 L1103.2 295.4 L1103.8 294.4 L1107.5 296.9 L1111.0 298.0 L1111.7 298.2 L1115.9 296.8 L1115.9 296.4 L1120.1 297.9 L1121.9 297.5 L1121.9 297.3" stroke="#000000" stroke-width="2.4"/>
<path d="M707.7 295.1 L711.6 295.9 L712.1 296.1 L715.7 291.3 L715.8 291.8 L719.3 296.8 L720.0 296.2 L723.0 293.2 L724.3 292.4 L727.8 290.0 L728.5 290.7 L732.7 291.2 L733.8 292.0 L736.9 291.9 L738.7 290.8 L741.1 289.8 L744.7 288.4 L745.3 288.1 L749.5 291.6 L749.6 291.3 L753.2 287.1 L753.7 287.0 L757.9 290.2 L758.0 289.6 L762.2 291.9 L762.9 292.0 L766.4 288.9 L767.7 288.4 L770.6 290.7 L772.5 291.3 L774.8 290.2 L777.4 289.6 L779.0 290.6 L782.2 290.8 L783.2 290.8 L787.0 294.4 L787.4 293.8 L791.6 291.1 L791.9 290.8 L795.8 290.5 L799.1 290.8 L800.1 290.2 L804.0 288.8 L804.3 288.5 L808.5 291.9 L808.8 292.0 L812.7 292.5 L816.1 292.0 L816.9 291.7 L820.9 292.0 L821.1 292.0 L825.3 288.3 L825.7 287.9 L829.5 291.4 L830.6 292.0 L833.7 292.1 L837.8 290.8 L838.0 290.9 L842.2 292.8 L842.6 293.2 L846.4 293.8 L849.9 294.4 L850.6 294.4 L854.7 292.0 L854.8 292.7 L859.0 294.2 L859.6 293.7 L863.2 292.5 L866.8 292.0 L867.4 291.3 L871.6 291.9 L871.7 291.3 L875.9 292.0 L878.9 293.2 L880.1 293.6 L883.8 293.7 L884.3 293.3 L888.5 294.9 L891.0 295.6 L892.7 295.5 L895.8 294.4 L896.9 294.1 L900.7 290.3 L901.1 290.5 L905.3 294.8 L905.5 295.1 L909.5 295.2 L912.8 294.4 L913.8 294.4 L918.0 293.5 L922.2 293.5 L922.4 293.7 L926.4 292.9 L930.6 293.2 L932.1 292.7 L934.8 292.9 L939.0 292.1 L941.8 292.7 L943.2 292.6 L947.4 292.7 L951.5 292.0 L951.6 292.5 L955.9 293.8 L956.3 293.7 L960.1 294.9 L961.1 295.1 L964.3 295.8 L968.4 296.8 L968.5 297.4 L972.7 293.1 L973.2 292.7 L976.9 293.2 L980.5 294.4 L981.1 293.7 L985.3 291.5 L987.7 290.3 L989.5 292.4 L992.6 296.1 L993.8 295.5 L998.0 294.7 L999.8 294.4 L1002.2 293.7 L1004.6 292.0 L1006.4 292.4 L1010.6 294.4 L1011.9 295.6 L1014.8 293.0 L1016.7 292.0 L1019.0 293.2 L1021.6 295.6 L1023.2 295.5 L1026.4 293.2 L1027.4 292.9 L1031.2 289.6 L1031.7 290.2 L1035.9 290.4 L1038.5 292.0 L1040.1 292.6 L1044.3 293.7 L1045.7 293.7 L1048.5 293.1 L1052.7 292.9 L1053.0 293.2 L1056.9 292.6 L1060.3 292.0 L1061.1 292.0 L1065.3 293.0 L1067.5 293.7 L1069.6 295.6 L1072.3 298.0 L1073.8 297.4 L1077.2 294.4 L1078.0 295.0 L1082.2 296.6 L1084.4 296.8 L1086.4 295.4 L1090.5 291.3 L1090.6 291.0 L1094.8 296.3 L1096.5 298.0 L1099.0 296.4 L1103.2 294.7 L1103.8 294.4 L1107.5 294.8 L1111.0 295.6 L1111.7 295.6 L1115.9 291.3 L1115.9 291.2 L1120.1 294.6 L1121.9 296.1 L1121.9 295.8" stroke="#f00000" stroke-width="2.4"/>
</g>
<g clip-path="url(#clipc)" fill="none" stroke-linejoin="round">
<path d="M1307.7 371.8 L1311.5 372.5 L1314.9 373.5 L1315.7 373.2 L1319.9 372.1 L1322.2 371.8 L1324.1 372.2 L1328.3 371.9 L1329.4 372.5 L1332.5 372.5 L1336.7 371.8 L1339.1 371.8 L1340.9 371.9 L1345.1 373.2 L1346.4 373.5 L1349.3 374.3 L1353.5 374.8 L1353.6 374.9 L1357.7 374.9 L1360.9 374.9 L1361.9 375.0 L1366.1 374.1 L1368.1 373.5 L1370.3 373.7 L1374.5 373.8 L1375.4 374.2 L1378.7 375.0 L1382.6 375.9 L1382.9 376.0 L1387.1 375.9 L1389.9 375.4 L1391.3 375.4 L1395.5 376.2 L1397.1 376.6 L1399.7 376.6 L1403.9 375.9 L1404.4 375.9 L1408.1 376.2 L1411.6 375.9 L1412.3 375.5 L1416.5 374.2 L1416.5 373.9 L1420.7 377.2 L1421.3 377.3 L1424.9 376.8 L1428.6 376.6 L1429.1 377.0 L1433.3 377.8 L1433.4 377.3 L1437.5 377.5 L1441.7 377.4 L1443.1 377.3 L1445.9 377.4 L1450.1 376.9 L1452.7 376.6 L1454.3 376.7 L1458.5 376.0 L1462.4 374.9 L1462.7 374.9 L1466.9 376.5 L1467.2 376.6 L1471.1 376.8 L1474.5 377.8 L1475.3 377.8 L1479.5 377.9 L1483.7 378.3 L1484.2 377.8 L1487.9 378.1 L1491.4 377.8 L1492.1 377.4 L1496.3 378.9 L1498.7 379.0 L1500.5 378.5 L1504.7 378.5 L1508.3 377.8 L1508.9 378.3 L1513.0 378.1 L1517.2 377.9 L1518.0 377.8 L1521.4 377.2 L1525.3 377.3 L1525.6 377.7 L1529.8 376.9 L1534.0 376.9 L1534.9 377.3 L1538.2 377.4 L1542.2 376.6 L1542.4 376.8 L1546.6 377.9 L1550.8 378.5 L1551.9 379.0 L1555.0 378.3 L1559.1 377.3 L1559.2 377.2 L1563.4 377.3 L1567.6 377.3 L1568.8 377.3 L1571.8 377.7 L1576.0 377.3 L1578.5 377.3 L1580.2 377.3 L1584.4 377.8 L1588.1 377.3 L1588.6 377.8 L1592.8 376.7 L1597.0 376.5 L1597.8 376.6 L1601.2 376.1 L1605.4 377.0 L1607.5 376.6 L1609.6 377.0 L1613.8 377.2 L1617.1 377.3 L1618.0 377.4 L1622.0 378.3 L1622.2 378.0 L1626.4 377.2 L1630.6 375.0 L1631.7 374.9 L1634.8 374.4 L1639.0 374.5 L1641.3 374.9 L1643.2 374.5 L1647.4 374.7 L1651.0 374.9 L1651.6 374.8 L1655.8 375.3 L1658.3 375.9 L1660.0 376.6 L1663.1 378.3 L1664.2 377.8 L1668.4 376.2 L1670.3 375.4 L1672.6 374.6 L1676.8 374.5 L1677.6 374.2 L1681.0 374.5 L1685.2 375.0 L1687.3 374.9 L1689.4 374.0 L1693.6 373.5 L1694.5 373.5 L1697.8 373.4 L1702.0 372.5 L1704.2 372.5 L1706.2 372.7 L1710.4 374.3 L1711.4 374.2 L1714.6 374.5 L1718.8 376.2 L1719.9 375.9" stroke="#f00000" stroke-width="2.4" stroke-dasharray="9.2 6.3"/>
<path d="M1307.7 358.0 L1310.1 364.5 L1311.5 366.4 L1313.7 370.6 L1315.7 371.5 L1319.8 374.2 L1319.9 374.5 L1324.1 376.3 L1327.0 378.3 L1328.3 378.6 L1332.5 377.7 L1334.3 377.8 L1336.7 377.3 L1340.9 377.8 L1341.5 377.8 L1345.1 376.6 L1346.4 376.6 L1349.3 376.1 L1353.5 376.4 L1353.6 376.6 L1357.7 377.1 L1361.9 377.3 L1363.3 377.8 L1366.1 378.0 L1370.3 377.1 L1370.5 377.3 L1374.5 378.1 L1377.8 378.3 L1378.7 377.9 L1382.9 376.6 L1387.1 375.9 L1387.5 375.9 L1391.3 374.8 L1394.7 373.5 L1395.5 373.7 L1399.7 374.9 L1402.0 375.4 L1403.9 374.3 L1406.8 373.5 L1408.1 373.8 L1412.3 376.0 L1414.1 377.3 L1416.5 375.1 L1418.9 373.0 L1420.7 373.0 L1424.9 371.9 L1426.1 371.8 L1429.1 372.6 L1433.3 372.6 L1433.4 373.0 L1437.5 372.7 L1441.7 373.2 L1443.1 373.0 L1445.9 372.6 L1450.1 371.5 L1452.7 370.6 L1454.3 370.2 L1458.5 370.6 L1462.4 370.6 L1462.7 370.4 L1466.9 371.9 L1467.2 371.8 L1471.1 371.2 L1474.5 370.6 L1475.3 370.7 L1479.5 370.8 L1481.8 370.6 L1483.7 370.3 L1487.9 368.1 L1489.0 367.7 L1492.1 369.4 L1496.3 370.3 L1496.3 370.6 L1500.5 372.1 L1503.5 372.5 L1504.7 372.1 L1508.9 372.7 L1510.8 372.5 L1513.0 372.3 L1517.2 370.8 L1518.0 370.6 L1521.4 370.4 L1525.3 370.6 L1525.6 370.9 L1529.8 370.9 L1534.0 370.8 L1534.9 370.6 L1538.2 370.4 L1542.4 370.6 L1544.6 370.6 L1546.6 370.1 L1550.8 370.6 L1554.3 370.6 L1555.0 370.2 L1559.2 369.9 L1561.5 369.4 L1563.4 368.7 L1567.6 368.7 L1568.8 368.6 L1571.8 369.1 L1576.0 370.4 L1576.0 370.6 L1580.2 370.3 L1583.3 369.4 L1584.4 369.6 L1588.6 369.5 L1592.8 369.2 L1593.0 369.4 L1597.0 368.4 L1601.2 367.9 L1602.6 368.1 L1605.4 368.0 L1609.6 368.2 L1609.9 367.7 L1613.8 368.4 L1617.1 368.6 L1618.0 367.8 L1622.0 365.7 L1622.2 366.2 L1626.4 364.9 L1630.6 364.2 L1631.7 364.5 L1634.8 365.1 L1638.9 365.7 L1639.0 365.7 L1643.2 365.1 L1647.4 365.7 L1648.6 365.2 L1651.6 365.2 L1655.8 365.5 L1658.3 365.7 L1660.0 364.9 L1664.2 364.0 L1667.9 363.8 L1668.4 364.2 L1672.6 364.0 L1676.8 363.5 L1677.6 363.3 L1681.0 364.2 L1682.4 365.2 L1685.2 364.9 L1689.4 364.9 L1689.7 365.2 L1693.6 364.8 L1697.8 365.5 L1699.4 365.2 L1702.0 365.3 L1706.2 365.1 L1709.0 365.7 L1710.4 364.7 L1713.9 362.8 L1714.6 362.7 L1718.8 362.2 L1719.9 362.1" stroke="#000000" stroke-width="2.4" stroke-dasharray="9.2 6.3"/>
<path d="M1307.7 390.4 L1311.5 391.0 L1314.9 392.3 L1315.7 392.2 L1319.9 392.2 L1322.2 392.8 L1324.1 393.1 L1328.3 394.7 L1329.4 394.7 L1332.5 394.9 L1336.7 394.7 L1339.1 394.7 L1340.9 395.0 L1345.1 394.7 L1346.4 394.7 L1349.3 395.6 L1353.5 396.0 L1353.6 395.9 L1357.7 394.6 L1358.4 394.7 L1361.9 395.7 L1365.7 396.7 L1366.1 396.7 L1370.3 397.2 L1374.5 397.3 L1375.4 397.6 L1378.7 398.4 L1382.6 398.8 L1382.9 398.5 L1387.1 398.8 L1391.3 398.8 L1392.3 399.1 L1395.5 399.0 L1399.7 399.1 L1402.0 399.6 L1403.9 399.9 L1408.1 400.0 L1411.6 400.1 L1412.3 399.5 L1416.5 399.8 L1418.9 399.6 L1420.7 399.4 L1424.9 400.7 L1426.1 400.8 L1429.1 400.2 L1433.3 399.6 L1433.4 399.6 L1437.5 399.6 L1440.6 399.1 L1441.7 399.5 L1445.9 400.0 L1447.9 400.1 L1450.1 399.7 L1454.3 399.3 L1457.6 399.6 L1458.5 399.6 L1462.7 399.4 L1466.9 399.5 L1467.2 399.1 L1471.1 400.1 L1475.3 400.2 L1476.9 400.8 L1479.5 401.1 L1483.7 402.1 L1484.2 402.0 L1487.9 401.5 L1492.1 401.5 L1493.8 400.8 L1496.3 400.5 L1500.5 401.4 L1501.1 401.5 L1504.7 401.1 L1508.3 400.1 L1508.9 400.5 L1513.0 399.6 L1513.2 399.6 L1517.2 400.0 L1520.4 400.8 L1521.4 400.9 L1525.6 400.6 L1529.8 401.0 L1530.1 400.8 L1534.0 400.3 L1538.2 399.9 L1539.8 400.1 L1542.4 400.0 L1546.6 399.9 L1547.0 399.6 L1550.8 398.5 L1554.3 397.6 L1555.0 397.9 L1559.2 398.7 L1561.5 399.1 L1563.4 399.7 L1567.6 400.4 L1571.2 402.0 L1571.8 401.7 L1576.0 401.1 L1578.5 400.1 L1580.2 400.1 L1584.4 400.3 L1588.1 400.1 L1588.6 400.6 L1592.8 400.3 L1597.0 401.7 L1600.2 402.0 L1601.2 401.8 L1605.4 400.6 L1607.5 400.8 L1609.6 400.7 L1613.8 401.3 L1617.1 401.5 L1618.0 401.5 L1622.2 402.1 L1626.4 401.8 L1626.8 402.0 L1630.6 403.2 L1631.7 403.2 L1634.8 402.6 L1639.0 402.4 L1641.3 401.5 L1643.2 402.0 L1647.4 401.2 L1651.0 401.5 L1651.6 401.8 L1655.8 400.8 L1660.0 400.7 L1660.7 400.8 L1664.2 400.3 L1665.5 399.6 L1668.4 400.0 L1672.6 400.3 L1672.8 400.8 L1676.8 400.0 L1681.0 400.7 L1682.4 400.1 L1685.2 400.4 L1689.4 400.5 L1692.1 400.1 L1693.6 399.9 L1697.8 399.9 L1699.4 400.1 L1702.0 400.2 L1706.2 399.6 L1709.0 400.1 L1710.4 400.1 L1714.6 399.4 L1718.7 399.6 L1718.7 399.3" stroke="#00f000" stroke-width="2.4" stroke-dasharray="9.2 6.3"/>
<path d="M1307.7 418.4 L1311.5 420.0 L1312.5 420.1 L1315.7 421.1 L1319.9 421.9 L1322.2 422.5 L1324.1 423.2 L1328.3 425.8 L1329.4 426.2 L1332.5 426.8 L1336.7 426.5 L1339.1 426.7 L1340.9 427.0 L1345.1 426.2 L1346.4 426.7 L1349.3 427.4 L1353.5 428.1 L1356.0 429.1 L1357.7 429.3 L1361.9 430.1 L1365.7 430.5 L1366.1 430.9 L1370.3 431.0 L1374.5 431.8 L1375.4 431.5 L1378.7 431.8 L1382.9 432.2 L1385.0 432.9 L1387.1 432.5 L1391.3 431.9 L1392.3 431.5 L1395.5 431.9 L1399.7 431.6 L1402.0 432.2 L1403.9 432.1 L1408.1 432.4 L1411.6 432.9 L1412.3 432.9 L1416.5 433.5 L1420.7 433.2 L1421.3 433.4 L1424.9 432.7 L1428.6 432.9 L1429.1 433.3 L1433.3 433.3 L1435.8 432.9 L1437.5 433.2 L1441.7 432.5 L1443.1 432.9 L1445.9 432.5 L1450.1 432.1 L1452.7 432.2 L1454.3 432.6 L1458.5 431.8 L1462.4 432.2 L1462.7 431.8 L1466.9 430.8 L1467.2 431.0 L1471.1 431.9 L1474.5 432.2 L1475.3 431.9 L1479.5 432.7 L1481.8 432.2 L1483.7 432.0 L1487.9 432.4 L1489.0 432.2 L1492.1 432.4 L1496.3 433.2 L1496.3 433.4 L1500.5 433.6 L1504.7 433.5 L1505.9 432.9 L1508.9 432.1 L1513.0 431.4 L1513.2 431.5 L1517.2 431.5 L1520.4 432.2 L1521.4 432.1 L1525.6 433.0 L1527.7 433.4 L1529.8 433.4 L1534.0 433.5 L1537.4 433.4 L1538.2 433.2 L1542.4 432.7 L1544.6 432.9 L1546.6 433.5 L1550.8 434.2 L1551.9 434.6 L1555.0 434.2 L1559.2 434.6 L1561.5 433.9 L1563.4 433.7 L1567.6 432.4 L1571.2 432.2 L1571.8 432.6 L1576.0 432.2 L1578.5 431.5 L1580.2 431.5 L1584.4 432.4 L1588.1 432.2 L1588.6 431.9 L1592.8 433.0 L1597.0 432.6 L1597.8 432.9 L1601.2 432.4 L1605.1 431.0 L1605.4 431.2 L1609.6 431.8 L1612.3 431.5 L1613.8 431.4 L1618.0 432.1 L1622.0 432.2 L1622.2 432.6 L1626.4 431.3 L1630.6 430.8 L1631.7 431.0 L1634.8 431.1 L1639.0 430.6 L1641.3 431.0 L1643.2 430.1 L1647.4 428.9 L1648.6 429.1 L1651.6 430.1 L1653.4 431.0 L1655.8 431.3 L1660.0 431.3 L1663.1 431.5 L1664.2 431.6 L1668.4 431.0 L1670.3 431.5 L1672.6 431.3 L1676.8 432.0 L1680.0 432.2 L1681.0 431.9 L1685.2 431.7 L1689.4 431.8 L1689.7 432.2 L1693.6 432.4 L1697.8 432.7 L1699.4 432.2 L1702.0 432.2 L1706.2 431.7 L1709.0 432.2 L1710.4 431.9 L1714.6 432.4 L1718.7 432.2 L1718.7 432.5" stroke="#0000f0" stroke-width="2.4" stroke-dasharray="9.2 6.3"/>
<path d="M1307.7 280.6 L1311.5 279.3 L1314.9 279.2 L1315.7 279.8 L1319.9 280.3 L1322.2 280.6 L1324.1 280.2 L1328.3 281.0 L1329.4 280.6 L1332.5 281.8 L1336.7 283.0 L1336.7 283.5 L1340.9 282.4 L1343.9 281.6 L1345.1 281.3 L1348.8 279.2 L1349.3 279.8 L1353.5 281.3 L1353.6 281.6 L1357.7 279.7 L1360.9 279.2 L1361.9 280.0 L1365.7 280.6 L1366.1 279.9 L1370.3 278.2 L1370.5 278.0 L1374.5 281.6 L1375.4 281.6 L1378.7 280.9 L1382.6 280.6 L1382.9 280.3 L1387.1 281.5 L1389.9 282.3 L1391.3 281.8 L1395.5 282.1 L1397.1 281.6 L1399.7 281.8 L1403.9 282.3 L1404.4 283.0 L1408.1 282.4 L1411.6 281.6 L1412.3 281.1 L1416.5 280.6 L1416.5 280.2 L1420.1 284.0 L1420.7 283.0 L1424.9 281.8 L1428.6 279.2 L1429.1 279.3 L1433.3 282.4 L1433.4 282.3 L1437.5 280.2 L1438.2 279.9 L1441.7 282.6 L1443.1 283.0 L1445.9 279.4 L1446.7 279.2 L1450.1 279.6 L1454.3 280.3 L1455.2 279.9 L1458.5 280.4 L1462.4 281.6 L1462.7 281.5 L1466.9 280.8 L1469.7 280.6 L1471.1 280.2 L1475.3 280.7 L1476.9 279.9 L1479.5 278.6 L1481.8 278.2 L1483.7 279.9 L1486.6 281.6 L1487.9 279.4 L1489.0 278.7 L1492.1 280.3 L1496.3 281.0 L1496.3 281.6 L1500.5 281.2 L1501.1 280.6 L1504.7 281.4 L1508.3 283.5 L1508.9 283.0 L1513.0 281.6 L1515.6 281.1 L1517.2 280.4 L1521.4 279.9 L1522.9 279.2 L1525.6 279.9 L1529.8 280.4 L1530.1 281.1 L1534.0 280.4 L1537.4 280.6 L1538.2 280.7 L1542.4 282.1 L1544.6 282.3 L1546.6 281.8 L1549.5 280.6 L1550.8 281.8 L1554.3 284.7 L1555.0 284.8 L1559.2 282.9 L1561.5 281.1 L1563.4 281.9 L1567.6 282.2 L1568.8 281.6 L1571.8 281.0 L1576.0 279.4 L1576.0 278.7 L1580.2 280.7 L1583.3 281.6 L1584.4 281.6 L1588.6 280.5 L1590.6 279.9 L1592.8 280.7 L1597.0 283.1 L1600.2 284.0 L1601.2 283.5 L1605.1 282.3 L1605.4 282.9 L1609.6 282.2 L1612.3 282.3 L1613.8 282.0 L1618.0 284.1 L1619.6 284.0 L1622.2 283.6 L1626.4 282.4 L1626.8 283.0 L1630.6 282.9 L1634.8 282.2 L1636.5 281.6 L1639.0 281.5 L1643.2 279.9 L1646.2 279.2 L1647.4 279.0 L1651.6 279.9 L1653.4 280.6 L1655.8 281.6 L1660.0 283.5 L1660.7 283.5 L1664.2 280.4 L1665.5 279.2 L1668.4 279.8 L1672.6 281.0 L1672.8 281.6 L1676.8 281.7 L1680.0 280.6 L1681.0 281.7 L1685.2 283.3 L1687.3 283.5 L1689.4 282.7 L1693.6 280.4 L1694.5 280.6 L1697.8 281.6 L1702.0 283.9 L1704.2 284.7 L1706.2 284.8 L1710.4 283.6 L1711.4 283.0 L1714.6 282.2 L1718.8 283.0 L1719.9 282.3" stroke="#000000" stroke-width="2.4"/>
<path d="M1307.7 292.0 L1311.3 289.6 L1311.5 289.5 L1315.7 290.7 L1317.3 292.0 L1319.9 291.7 L1324.1 290.3 L1324.6 290.8 L1328.3 290.5 L1331.8 290.3 L1332.5 290.2 L1336.7 291.7 L1339.1 292.0 L1340.9 291.1 L1345.1 291.2 L1346.4 290.3 L1349.3 289.8 L1353.5 290.0 L1356.0 290.8 L1357.7 290.9 L1361.9 291.0 L1365.7 290.0 L1366.1 290.6 L1370.3 290.8 L1374.5 290.2 L1375.4 290.8 L1378.7 291.2 L1380.2 292.0 L1382.9 290.8 L1387.1 289.3 L1387.5 289.6 L1391.3 288.8 L1395.5 288.7 L1397.1 288.8 L1399.7 289.9 L1402.0 291.3 L1403.9 290.9 L1408.1 291.3 L1409.2 290.8 L1412.3 291.4 L1416.5 290.6 L1418.9 291.3 L1420.7 291.0 L1424.9 290.5 L1428.6 289.6 L1429.1 289.3 L1433.3 294.2 L1433.4 293.7 L1437.5 292.1 L1440.6 290.8 L1441.7 290.8 L1445.9 290.9 L1450.1 291.8 L1450.3 291.3 L1454.3 292.9 L1455.2 293.2 L1458.5 292.7 L1462.7 292.9 L1464.8 292.0 L1466.9 291.4 L1471.1 291.5 L1474.5 291.3 L1475.3 291.8 L1479.5 291.5 L1483.7 291.2 L1484.2 290.8 L1487.9 291.3 L1492.1 290.3 L1496.3 291.0 L1496.3 290.8 L1500.5 291.5 L1503.5 292.0 L1504.7 292.5 L1508.9 292.0 L1513.0 290.6 L1513.2 290.8 L1517.2 291.9 L1520.4 292.0 L1521.4 291.7 L1525.6 291.3 L1527.7 291.3 L1529.8 291.2 L1534.0 290.7 L1537.4 289.6 L1538.2 290.1 L1542.4 290.0 L1546.6 290.6 L1547.0 291.3 L1550.8 292.4 L1555.0 292.5 L1556.7 292.7 L1559.2 292.1 L1563.4 291.2 L1564.0 290.8 L1567.6 291.6 L1571.8 291.5 L1573.6 291.3 L1576.0 291.6 L1580.2 291.7 L1583.3 292.0 L1584.4 292.6 L1588.1 293.7 L1588.6 294.0 L1592.8 294.1 L1597.0 295.0 L1597.8 294.4 L1601.2 292.5 L1602.6 292.0 L1605.4 293.2 L1609.6 294.3 L1609.9 293.7 L1613.8 293.1 L1617.1 292.0 L1618.0 292.0 L1622.2 292.7 L1626.4 293.0 L1626.8 293.2 L1630.6 292.3 L1634.1 290.8 L1634.8 291.2 L1639.0 290.7 L1641.3 291.3 L1643.2 290.8 L1647.4 290.6 L1651.0 289.6 L1651.6 289.5 L1655.8 293.0 L1655.8 292.7 L1660.0 292.8 L1664.2 292.2 L1665.5 292.7 L1668.4 293.0 L1672.6 294.5 L1675.2 294.4 L1676.8 293.6 L1681.0 293.3 L1684.8 292.7 L1685.2 293.4 L1689.4 292.4 L1693.6 293.1 L1694.5 292.7 L1697.8 292.9 L1702.0 294.1 L1704.2 293.7 L1706.2 294.0 L1710.4 293.2 L1711.4 292.7 L1714.6 291.0 L1716.3 290.8 L1718.8 292.2 L1719.9 292.0" stroke="#f00000" stroke-width="2.4"/>
<path d="M1307.7 303.3 L1311.5 303.3 L1315.7 303.7 L1317.3 303.3 L1319.9 303.4 L1324.1 303.3 L1327.0 303.3 L1328.3 303.9 L1332.5 303.5 L1334.3 304.1 L1336.7 304.2 L1340.9 302.6 L1341.5 302.4 L1345.1 301.3 L1346.4 301.7 L1349.3 303.0 L1351.2 303.3 L1353.5 302.4 L1357.7 302.5 L1358.4 301.7 L1361.9 301.9 L1366.1 301.2 L1368.1 301.7 L1370.3 302.8 L1374.5 302.9 L1375.4 303.3 L1378.7 303.6 L1382.9 301.9 L1385.0 302.4 L1387.1 302.1 L1391.3 302.6 L1394.7 302.4 L1395.5 302.1 L1399.7 302.6 L1403.9 302.7 L1404.4 303.3 L1408.1 303.1 L1412.3 303.0 L1414.1 302.4 L1416.5 301.9 L1420.7 302.1 L1423.7 301.7 L1424.9 301.6 L1429.1 301.5 L1433.3 301.6 L1433.4 300.9 L1437.5 301.0 L1441.7 300.7 L1443.1 300.9 L1445.9 302.3 L1447.9 303.3 L1450.1 303.3 L1454.3 302.9 L1457.6 301.7 L1458.5 301.9 L1462.4 299.2 L1462.7 299.1 L1466.9 301.6 L1467.2 302.4 L1471.1 302.7 L1475.3 301.4 L1476.9 301.7 L1479.5 302.4 L1483.7 302.3 L1486.6 303.3 L1487.9 303.5 L1491.4 304.1 L1492.1 304.2 L1496.3 303.6 L1498.7 302.4 L1500.5 302.0 L1504.7 301.7 L1505.9 301.7 L1508.9 304.6 L1509.6 304.8 L1513.0 304.0 L1515.6 303.3 L1517.2 302.9 L1521.4 303.6 L1525.3 304.1 L1525.6 303.7 L1529.8 304.1 L1534.0 303.6 L1534.9 303.3 L1538.2 302.3 L1542.2 302.4 L1542.4 302.4 L1546.6 303.5 L1550.8 304.4 L1551.9 304.1 L1555.0 304.1 L1559.2 303.6 L1561.5 303.3 L1563.4 303.6 L1567.6 304.9 L1571.2 304.8 L1571.8 304.6 L1576.0 303.5 L1578.5 303.3 L1580.2 303.0 L1584.4 302.9 L1588.1 302.9 L1588.6 303.0 L1592.8 305.4 L1593.0 305.8 L1597.0 305.2 L1601.2 305.4 L1602.6 304.8 L1605.4 304.1 L1609.6 303.8 L1612.3 304.1 L1613.8 303.8 L1618.0 304.2 L1619.6 304.8 L1622.2 304.9 L1626.4 303.9 L1626.8 303.3 L1630.6 305.7 L1631.7 305.8 L1634.8 304.8 L1639.0 305.3 L1641.3 304.8 L1643.2 304.7 L1647.4 303.2 L1648.6 303.3 L1651.6 304.3 L1655.8 306.5 L1655.8 306.5 L1660.0 306.3 L1664.2 306.4 L1665.5 306.5 L1668.4 306.3 L1672.6 306.4 L1675.2 305.8 L1676.8 306.0 L1681.0 305.7 L1684.8 304.8 L1685.2 305.2 L1689.4 304.0 L1693.6 304.3 L1694.5 304.1 L1697.8 304.0 L1702.0 304.7 L1704.2 304.8 L1706.2 304.4 L1710.4 304.8 L1711.4 304.1 L1714.6 304.0 L1718.8 304.0 L1719.9 304.1" stroke="#00f000" stroke-width="2.4"/>
<path d="M1307.7 316.9 L1311.5 316.6 L1315.7 317.4 L1317.3 317.9 L1319.9 318.0 L1324.1 317.9 L1328.3 317.7 L1331.8 316.9 L1332.5 317.7 L1336.7 317.3 L1340.9 318.1 L1341.5 318.6 L1345.1 318.9 L1349.3 319.4 L1351.2 319.3 L1353.5 319.0 L1357.7 320.0 L1360.9 319.8 L1361.9 319.6 L1366.1 320.9 L1368.1 321.0 L1370.3 320.7 L1374.5 319.2 L1375.4 319.3 L1378.7 321.2 L1380.2 322.2 L1382.9 321.7 L1387.1 320.4 L1387.5 320.3 L1391.3 321.5 L1392.3 322.2 L1395.5 322.8 L1399.5 322.2 L1399.7 322.0 L1403.9 322.2 L1406.8 322.7 L1408.1 323.0 L1411.6 325.8 L1412.3 326.5 L1416.5 326.6 L1418.9 326.6 L1420.7 326.3 L1424.9 325.0 L1426.1 324.6 L1429.1 324.3 L1433.3 324.3 L1435.8 325.1 L1437.5 325.1 L1441.7 325.2 L1443.1 324.6 L1445.9 325.3 L1450.1 324.1 L1452.7 324.6 L1454.3 324.1 L1458.5 324.3 L1462.4 325.1 L1462.7 324.6 L1466.9 325.2 L1469.7 324.6 L1471.1 325.3 L1475.3 326.9 L1476.9 327.0 L1479.5 327.3 L1483.7 327.7 L1484.2 328.2 L1487.9 329.1 L1491.4 329.0 L1492.1 329.9 L1496.3 330.1 L1496.3 330.7 L1500.5 330.0 L1504.7 330.1 L1505.9 330.7 L1508.9 330.4 L1513.0 330.9 L1515.6 330.7 L1517.2 331.2 L1521.4 331.3 L1525.3 332.4 L1525.6 331.8 L1529.8 331.5 L1530.1 331.4 L1534.0 332.1 L1538.2 332.1 L1539.8 331.4 L1542.4 331.7 L1544.6 333.1 L1546.6 332.5 L1550.8 332.4 L1554.3 333.1 L1555.0 333.1 L1559.2 333.0 L1563.4 333.4 L1564.0 333.1 L1567.6 332.8 L1571.8 333.6 L1573.6 333.1 L1576.0 333.8 L1580.2 333.6 L1583.3 334.3 L1584.4 335.0 L1588.6 334.8 L1590.6 334.8 L1592.8 334.7 L1597.0 336.9 L1597.8 336.7 L1601.2 336.7 L1605.1 336.2 L1605.4 336.6 L1609.6 336.9 L1612.3 337.2 L1613.8 337.0 L1618.0 337.2 L1622.0 336.7 L1622.2 336.9 L1626.4 336.3 L1630.6 337.0 L1631.7 337.2 L1634.8 337.1 L1639.0 336.9 L1641.3 337.2 L1643.2 337.6 L1647.4 337.3 L1651.0 337.9 L1651.6 338.6 L1655.8 338.5 L1660.0 338.2 L1660.7 338.6 L1664.2 338.7 L1667.9 339.1 L1668.4 338.7 L1672.6 339.4 L1675.2 339.6 L1676.8 339.3 L1681.0 338.5 L1682.4 338.6 L1685.2 338.5 L1689.4 338.9 L1689.7 339.1 L1693.6 340.1 L1696.9 339.6 L1697.8 339.4 L1702.0 341.6 L1704.2 341.5 L1706.2 341.2 L1710.4 341.4 L1711.4 341.5 L1714.6 341.2 L1718.8 342.0 L1719.9 342.0" stroke="#0000f0" stroke-width="2.4"/>
</g>
<g clip-path="url(#clipd)" fill="none" stroke-linejoin="round">
<path d="M105.9 940.4 L175.9 941.6 L247.7 942.0 L276.5 941.6 L333.9 942.0 L343.5 941.6 L353.1 942.8 L379.4 942.8 L415.4 941.6 L448.9 941.1 L468.1 940.4 L487.2 941.6 L506.4 940.4 L525.6 941.1" stroke="#000000" stroke-width="2.3" stroke-dasharray="9.0 8.6" stroke-dashoffset="9.80"/>
<path d="M105.9 963.8 L175.9 963.8 L247.7 963.1 L319.6 962.2 L343.5 962.6 L367.5 961.2 L379.4 961.9 L391.4 962.6 L415.4 961.2 L439.3 960.2 L463.3 959.0 L475.3 959.5 L487.2 958.8 L511.2 958.3 L525.6 957.8" stroke="#f00000" stroke-width="2.3" stroke-dasharray="9.0 8.6" stroke-dashoffset="9.80"/>
<path d="M105.9 985.1 L128.0 984.7 L175.9 978.7 L223.8 973.9 L259.7 970.3 L295.6 968.4 L319.6 966.0 L343.5 963.6 L367.5 961.2 L391.4 958.8 L415.4 955.9 L439.3 953.5 L463.3 951.6 L487.2 949.2 L511.2 947.5 L525.6 945.9" stroke="#0000f0" stroke-width="2.3" stroke-dasharray="9.0 8.6" stroke-dashoffset="7.50"/>
<path d="M105.9 989.0 L151.9 987.5 L199.8 985.1 L247.7 982.8 L283.6 981.1 L319.6 978.0 L355.5 976.3 L379.4 973.9 L391.4 973.9 L415.4 970.3 L439.3 967.9 L463.3 965.5 L487.2 963.6 L511.2 962.6 L525.6 961.2" stroke="#00f000" stroke-width="2.3" stroke-dasharray="9.0 8.6" stroke-dashoffset="9.00"/>
<path d="M105.9 775.8 L180.6 774.4 L223.8 777.2 L254.9 778.2 L276.5 781.1 L298.0 785.1 L329.1 783.0 L353.1 785.9 L363.9 788.3 L372.3 787.5 L381.8 790.2 L389.0 789.2 L396.2 791.1 L403.4 789.9 L407.4 790.2 L411.4 790.4 L415.4 790.7 L422.6 793.5 L427.4 793.1 L432.1 792.3 L438.1 790.7 L442.9 791.7 L447.7 793.1 L453.7 791.1 L458.5 791.4 L463.3 791.6 L470.5 789.9 L475.3 789.4 L480.0 789.2 L482.4 787.5 L486.0 790.7 L489.6 788.3 L494.4 789.2 L501.6 788.7 L508.8 789.9 L511.2 788.3 L516.0 787.5 L519.6 789.2 L525.6 788.7" stroke="#0000f0" stroke-width="2.3"/>
<path d="M105.9 810.8 L163.9 816.3 L223.8 819.9 L247.7 818.7 L276.5 818.0 L314.8 821.8 L331.5 819.9 L341.1 820.4 L353.1 818.0 L367.5 818.7 L381.8 817.5 L386.6 817.3 L391.4 817.2 L396.2 817.0 L401.0 817.3 L405.8 817.5 L410.6 817.5 L414.6 818.0 L418.6 818.5 L422.6 818.7 L429.7 817.5 L433.7 816.7 L437.7 816.8 L441.7 816.3 L448.9 818.7 L456.1 820.4 L463.3 818.7 L468.1 819.6 L472.9 821.1 L480.0 819.9 L487.2 823.5 L494.4 821.8 L501.6 822.8 L506.4 824.7 L511.2 822.8 L513.6 825.9 L518.4 822.8 L525.6 822.8" stroke="#00f000" stroke-width="2.3"/>
<path d="M105.9 815.1 L163.9 821.8 L223.8 827.1 L254.9 828.3 L276.5 829.9 L298.0 831.9 L329.1 829.9 L343.5 831.9 L362.7 833.1 L374.7 835.4 L379.4 835.8 L384.2 836.2 L389.0 836.6 L393.8 837.2 L398.6 837.5 L403.4 838.1 L407.4 837.6 L411.4 837.2 L415.4 836.6 L420.2 837.4 L425.0 837.8 L429.7 839.0 L434.5 837.8 L439.3 839.5 L442.9 837.1 L447.1 837.8 L451.3 838.6 L458.5 838.6 L464.5 836.6 L470.5 839.0 L475.3 837.8 L482.4 838.6 L487.2 841.0 L494.4 840.2 L501.6 840.2 L508.8 841.4 L513.6 840.2 L518.4 841.9 L525.6 841.0" stroke="#000000" stroke-width="2.3"/>
<path d="M105.9 824.7 L163.9 831.9 L223.8 837.8 L254.9 837.4 L276.5 841.0 L298.0 843.4 L314.8 843.4 L333.9 844.3 L355.5 845.7 L374.7 845.0 L379.4 845.8 L384.2 846.6 L389.0 847.4 L396.2 845.7 L401.0 846.5 L405.8 847.4 L410.6 848.1 L414.8 848.4 L419.0 849.0 L423.2 849.7 L427.4 849.8 L432.1 850.3 L436.9 851.3 L441.7 852.2 L446.5 852.4 L451.3 852.2 L455.3 852.0 L459.3 852.3 L463.3 852.9 L468.1 853.8 L472.9 853.9 L477.7 853.7 L482.4 852.2 L487.2 852.0 L492.0 852.2 L496.8 851.1 L501.6 851.0 L508.8 853.4 L513.6 852.9 L518.4 853.9 L525.6 854.6" stroke="#f00000" stroke-width="2.3"/>
</g>
<g clip-path="url(#clipe)" fill="none" stroke-linejoin="round">
<path d="M711.6 923.5 L773.9 924.0 L845.7 924.4 L869.7 925.1 L893.6 925.6 L917.6 925.9 L941.5 925.9 L965.5 925.1 L989.4 924.9 L1013.4 924.9 L1032.5 924.4 L1046.9 924.9 L1061.3 924.0 L1085.2 923.5 L1109.2 924.0 L1124.8 922.8" stroke="#000000" stroke-width="2.3" stroke-dasharray="9.0 8.6" stroke-dashoffset="9.80"/>
<path d="M711.6 942.2 L773.9 942.4 L797.8 941.9 L845.7 941.2 L893.6 940.7 L931.9 940.2 L941.5 940.2 L955.9 938.8 L989.4 937.8 L1013.4 937.6 L1037.3 936.4 L1061.3 935.9 L1085.2 935.0 L1109.2 934.0 L1124.8 933.5" stroke="#f00000" stroke-width="2.3" stroke-dasharray="9.0 8.6" stroke-dashoffset="9.80"/>
<path d="M711.6 961.8 L773.9 960.4 L845.7 958.7 L893.6 957.5 L941.5 955.6 L965.5 954.6 L989.4 954.1 L1013.4 953.7 L1037.3 953.2 L1061.3 952.2 L1085.2 951.0 L1109.2 950.8 L1124.8 950.3" stroke="#00f000" stroke-width="2.3" stroke-dasharray="9.0 8.6" stroke-dashoffset="9.80"/>
<path d="M711.6 976.6 L749.9 975.2 L797.8 973.1 L845.7 970.7 L893.6 968.5 L929.5 966.1 L965.5 964.7 L989.4 963.2 L1001.4 961.8 L1013.4 961.3 L1037.3 959.9 L1061.3 958.0 L1085.2 956.3 L1109.2 953.9 L1124.8 953.2" stroke="#0000f0" stroke-width="2.3" stroke-dasharray="9.0 8.6" stroke-dashoffset="9.80"/>
<path d="M704.4 801.5 L778.6 799.8 L821.8 800.8 L893.6 802.2 L912.8 801.5 L931.9 803.2 L951.1 802.2 L954.9 802.3 L958.8 802.4 L962.6 802.5 L966.4 802.6 L970.3 802.7 L974.1 802.8 L977.9 802.9 L981.8 803.0 L985.6 803.1 L989.4 803.2 L993.4 803.3 L997.4 803.5 L1001.4 803.5 L1005.4 803.7 L1009.4 803.7 L1013.4 803.9 L1017.4 803.7 L1021.4 803.9 L1025.4 803.3 L1029.3 803.4 L1033.3 803.1 L1037.3 803.2 L1041.3 803.3 L1045.3 804.1 L1049.3 803.9 L1053.3 803.3 L1057.3 803.2 L1061.3 802.7 L1066.1 804.6 L1070.9 805.6 L1075.7 803.9 L1080.4 803.2 L1085.2 802.7 L1090.0 802.9 L1094.8 802.3 L1099.6 802.2 L1104.4 801.3 L1109.2 801.5 L1114.0 802.2 L1118.8 803.2 L1124.8 803.2" stroke="#f00000" stroke-width="2.3"/>
<path d="M704.4 804.6 L778.6 803.9 L845.7 803.9 L917.6 804.6 L941.5 804.6 L945.2 804.6 L948.9 804.6 L952.6 804.6 L956.3 804.6 L959.9 804.6 L963.6 804.6 L967.3 804.6 L971.0 804.6 L974.7 804.6 L978.4 804.6 L982.1 804.6 L985.7 804.6 L989.4 804.6 L993.1 804.5 L996.8 804.4 L1000.5 804.2 L1004.2 804.1 L1007.8 803.7 L1011.5 803.8 L1015.2 803.5 L1018.9 803.6 L1022.6 803.2 L1026.3 803.2 L1030.0 803.0 L1033.6 802.9 L1037.3 802.7 L1041.3 802.8 L1045.3 802.7 L1049.3 801.9 L1053.3 802.2 L1057.3 802.1 L1061.3 801.5 L1065.3 801.3 L1069.3 800.8 L1073.3 801.1 L1077.2 801.4 L1081.2 800.9 L1085.2 800.8 L1089.2 800.2 L1093.2 800.9 L1097.2 800.3 L1101.2 801.1 L1105.2 799.8 L1109.2 800.3 L1113.1 800.6 L1117.0 800.3 L1120.9 801.6 L1124.8 800.8" stroke="#00f000" stroke-width="2.3"/>
<path d="M704.4 805.1 L778.6 805.6 L821.8 804.6 L869.7 803.2 L931.9 803.2 L951.1 800.8 L960.7 802.2 L972.7 801.5 L976.9 801.8 L981.0 802.1 L985.2 802.4 L989.4 802.7 L993.4 802.4 L997.4 802.0 L1001.4 801.7 L1005.4 801.5 L1009.4 801.2 L1013.4 800.8 L1017.4 800.4 L1021.4 800.1 L1025.4 799.8 L1032.5 801.5 L1037.3 800.8 L1042.1 800.8 L1046.9 800.2 L1051.7 799.8 L1056.5 800.2 L1061.3 800.8 L1066.1 801.4 L1070.9 801.3 L1075.7 801.5 L1080.4 801.3 L1085.2 800.3 L1090.0 799.8 L1093.9 799.4 L1097.7 800.6 L1101.5 800.6 L1105.4 800.0 L1109.2 800.3 L1113.1 799.1 L1117.0 799.4 L1120.9 798.9 L1124.8 798.4" stroke="#000000" stroke-width="2.3"/>
<path d="M704.4 808.0 L778.6 810.4 L821.8 809.9 L852.9 805.6 L912.8 807.5 L941.5 807.5 L953.5 806.3 L957.6 806.2 L961.7 806.1 L965.8 806.0 L969.9 805.9 L974.0 805.8 L978.1 805.7 L982.2 805.6 L986.6 806.4 L991.0 807.1 L995.4 808.0 L1000.8 806.8 L1006.2 805.6 L1010.0 805.3 L1013.9 805.2 L1017.7 805.2 L1021.5 804.6 L1025.4 804.6 L1029.5 804.1 L1033.7 804.0 L1037.9 803.2 L1042.1 803.2 L1046.1 802.9 L1050.1 803.5 L1054.1 803.2 L1061.3 801.5 L1066.1 802.1 L1070.9 801.3 L1075.7 801.5 L1080.4 800.3 L1085.2 800.6 L1090.0 799.1 L1097.2 800.3 L1101.2 799.6 L1105.2 799.7 L1109.2 799.1 L1114.0 798.5 L1118.8 797.4 L1124.8 797.4" stroke="#0000f0" stroke-width="2.3"/>
</g>
<g clip-path="url(#clipf)" fill="none" stroke-linejoin="round">
<path d="M1310.8 894.8 L1372.2 895.5 L1396.3 895.8 L1444.4 894.8 L1492.5 894.5 L1516.6 894.1 L1540.7 893.6 L1564.7 893.3 L1588.8 893.6 L1612.9 893.3 L1632.1 893.1 L1646.6 893.6 L1661.0 893.1 L1685.1 892.4 L1709.1 891.7 L1724.8 891.2" stroke="#000000" stroke-width="2.3" stroke-dasharray="9.0 8.6" stroke-dashoffset="9.80"/>
<path d="M1310.8 909.2 L1372.2 909.0 L1420.3 907.8 L1468.5 907.5 L1492.5 907.1 L1516.6 906.6 L1540.7 906.1 L1564.7 905.1 L1588.8 904.9 L1612.9 904.2 L1636.9 903.2 L1661.0 902.5 L1670.6 903.0 L1685.1 901.8 L1704.3 900.6 L1724.8 900.3" stroke="#f00000" stroke-width="2.3" stroke-dasharray="9.0 8.6" stroke-dashoffset="9.80"/>
<path d="M1310.8 927.8 L1372.2 927.3 L1420.3 926.1 L1468.5 925.4 L1492.5 924.2 L1516.6 922.5 L1540.7 921.0 L1564.7 921.0 L1588.8 920.5 L1612.9 919.6 L1636.9 918.9 L1661.0 918.1 L1685.1 917.7 L1709.1 916.5 L1724.8 915.7" stroke="#00f000" stroke-width="2.3" stroke-dasharray="9.0 8.6" stroke-dashoffset="9.80"/>
<path d="M1310.8 941.7 L1372.2 940.3 L1420.3 938.4 L1468.5 935.5 L1492.5 934.3 L1516.6 933.3 L1540.7 931.6 L1564.7 930.4 L1588.8 929.7 L1612.9 927.8 L1636.9 926.1 L1661.0 924.4 L1685.1 922.2 L1709.1 921.0 L1724.8 919.3" stroke="#0000f0" stroke-width="2.3" stroke-dasharray="9.0 8.6" stroke-dashoffset="9.80"/>
<path d="M1302.9 774.8 L1377.0 772.8 L1420.3 770.9 L1451.6 772.6 L1475.7 773.8 L1494.9 771.4 L1511.8 772.8 L1531.0 770.4 L1550.3 770.2 L1564.7 769.0 L1579.2 769.0 L1584.0 768.4 L1588.8 767.8 L1592.8 767.6 L1596.8 767.5 L1600.8 767.3 L1604.9 767.1 L1608.9 767.0 L1612.9 766.8 L1617.7 766.4 L1622.5 766.1 L1627.3 766.9 L1632.1 767.8 L1635.7 767.6 L1639.4 766.4 L1643.0 766.1 L1646.6 765.6 L1650.2 765.2 L1653.8 765.1 L1657.4 765.6 L1661.0 764.9 L1665.0 764.5 L1669.0 764.5 L1673.0 764.2 L1677.1 763.7 L1681.1 763.9 L1685.1 763.2 L1689.9 762.8 L1694.7 762.5 L1699.5 761.3 L1704.3 761.3 L1709.1 762.1 L1714.0 763.2 L1718.8 760.8 L1724.8 760.1" stroke="#0000f0" stroke-width="2.3"/>
<path d="M1302.9 764.2 L1377.0 761.8 L1420.3 763.2 L1451.6 761.8 L1492.5 762.3 L1511.8 760.6 L1531.0 762.0 L1550.3 759.6 L1562.3 761.3 L1576.8 759.6 L1581.0 759.9 L1585.2 760.2 L1589.4 760.6 L1593.6 760.8 L1597.2 760.5 L1600.8 760.2 L1604.5 759.8 L1608.1 759.4 L1612.3 759.2 L1616.5 759.5 L1620.7 759.4 L1624.9 759.6 L1628.9 759.5 L1632.9 759.1 L1636.9 758.9 L1641.0 758.8 L1645.0 758.6 L1649.0 758.4 L1653.0 758.2 L1657.0 758.3 L1661.0 757.7 L1665.0 758.1 L1669.0 757.2 L1673.0 757.2 L1677.1 757.5 L1681.1 757.6 L1685.1 757.0 L1689.1 756.5 L1693.1 755.7 L1697.1 756.0 L1701.1 756.3 L1705.1 757.1 L1709.1 757.0 L1712.8 758.0 L1716.4 758.9 L1720.6 758.3 L1724.8 758.9" stroke="#00f000" stroke-width="2.3"/>
<path d="M1302.9 758.9 L1377.0 757.0 L1420.3 756.5 L1451.6 755.0 L1492.5 755.0 L1511.8 755.0 L1526.2 756.0 L1540.7 758.4 L1555.1 757.7 L1567.1 757.0 L1579.2 754.5 L1584.0 754.3 L1588.8 754.1 L1592.4 754.4 L1596.0 754.6 L1599.6 755.0 L1603.2 755.3 L1608.1 755.7 L1612.9 756.0 L1616.7 755.9 L1620.6 755.6 L1624.4 755.4 L1628.3 754.9 L1632.1 755.0 L1635.7 755.2 L1639.4 755.4 L1643.0 756.1 L1646.6 756.0 L1651.4 755.1 L1656.2 754.1 L1660.4 754.4 L1664.6 754.0 L1668.8 753.7 L1673.0 754.1 L1677.1 754.4 L1681.1 754.2 L1685.1 753.6 L1689.1 753.4 L1693.1 752.9 L1697.1 753.6 L1701.1 753.4 L1705.1 753.1 L1709.1 752.9 L1713.1 753.5 L1717.0 753.4 L1720.9 753.4 L1724.8 753.6" stroke="#f00000" stroke-width="2.3"/>
<path d="M1302.9 752.1 L1377.0 754.5 L1420.3 751.2 L1451.6 751.2 L1494.9 748.3 L1526.2 750.5 L1550.3 749.7 L1564.7 748.8 L1579.2 748.8 L1584.0 749.6 L1588.8 750.5 L1592.4 750.6 L1596.0 750.8 L1599.6 750.9 L1603.2 751.2 L1608.1 749.7 L1612.3 750.1 L1616.5 750.7 L1620.7 750.6 L1624.9 751.2 L1628.5 751.3 L1632.1 751.8 L1635.7 751.6 L1639.4 752.1 L1643.0 751.0 L1646.6 750.5 L1651.4 750.4 L1656.2 749.7 L1660.4 750.0 L1664.6 749.0 L1668.8 748.6 L1673.0 748.8 L1677.1 749.6 L1681.1 748.9 L1685.1 749.3 L1689.1 749.3 L1693.1 749.1 L1697.1 748.8 L1701.1 749.0 L1705.1 749.5 L1709.1 748.8 L1714.0 750.1 L1718.8 749.7 L1724.8 748.8" stroke="#000000" stroke-width="2.3"/>
</g>
</svg>
</body></html>
